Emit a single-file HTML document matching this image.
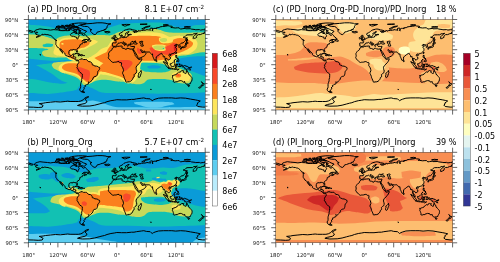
<!DOCTYPE html>
<html><head><meta charset="utf-8"><title>Figure</title>
<style>html,body{margin:0;padding:0;background:#fff}svg{display:block}text{font-family:"DejaVu Sans","Liberation Sans",sans-serif;fill:#000}.t{font-size:8.2px}.k{font-size:5.3px;fill:#1a1a1a}.c{font-size:8px}</style></head><body>
<svg width="500" height="262" viewBox="0 0 500 262">
<rect width="500" height="262" fill="#fff"/>
<defs>
<clipPath id="cp"><rect x="0" y="0" width="176.8" height="90.5"/></clipPath>
<path id="coast" d="M5.9,12.3 6.9,10.8 8.8,10.1 11.5,9.4 14.7,9.8 19.2,10.2 22.1,10.6 25.5,10.1 27,10.3 29.5,10.4 31.9,11.1 34.4,11.2 36.8,11.1 39.3,11.2 41.3,11 41.7,9.3 43.2,10.3 44.2,10.8 45.7,11.3 46.7,10.3 48.1,10.6 48.4,11.6 46.2,12.1 45.4,12.8 42.7,14.1 42,15.1 42.2,15.7 43,16.6 45.2,16.8 46.7,17.4 48,17.6 48.1,18.7 48.9,19.5 49.6,19.4 49.6,17.8 50.6,17.1 50.8,16.1 50.1,15.1 50.3,13.9 52.3,14.1 54,14.6 54.3,15.6 55.2,15.9 56.5,15.2 56.7,14.9 58,16.3 58.9,17.6 60.4,18.4 61,19.1 60.4,19.4 58.9,20 56,20 54.5,20.9 53.5,21.7 55,20.7 56.7,20.6 56.5,21.4 57,22.1 58.4,22.1 58.4,22.5 57.2,22.8 56,23.4 56,22.9 56.7,22.4 55.5,22.6 54.5,23.1 53.8,23.5 53.7,24.1 54,24.3 53.3,24.4 52.1,24.8 52,25.4 51.3,25.5 51.5,25.9 51.1,26.6 51.2,27.4 50.6,27.9 49.6,28.5 48.6,29.3 48.4,30 49.1,31.7 49,32.5 48.5,32.6 47.8,31.3 47.8,30.7 47.1,30.2 46.4,30.3 45.4,30 44.4,30.1 44.5,30.6 43.7,30.5 42.2,30.4 40.8,31.2 40.5,32.3 40.4,33.9 40.8,34.9 41.3,35.7 42,36.1 43.2,35.9 43.9,35.4 44.1,34.7 45.7,34.4 45.4,35.4 45.1,36.5 44.8,37.3 46.2,37.3 47.5,37.7 47.3,39 47.3,39.8 48,40.6 49.1,40.6 49.6,40.5 50.4,40.9 51.3,39.9 52.5,39.6 53.3,39.1 53.3,39.8 54,39.5 55,40 57,40 58,39.9 58.4,40.5 58.9,41 60.2,42.1 61.9,42.3 63.1,43 63.8,44.3 63.8,45.2 64.6,45.7 64.8,45.6 66.5,46.5 68.3,46.7 69.5,47.1 70.2,47.7 71.1,48 71.3,49 71,50 70.2,51 69.5,51.8 69.2,53 69.1,54.2 68.8,55.3 68.3,56.3 67.8,56.8 66.5,56.9 65.6,57.4 64.6,58.3 64.5,59.6 63.6,60.8 62.7,61.5 62.1,62.3 61.4,62.8 60.7,62.7 59.8,62.4 60.4,63.3 60.1,64.4 58.4,64.9 57.8,65.6 56.5,65.9 57.1,66.6 56.3,67.6 55.2,68.4 56.1,69.1 55.2,70.1 54.5,70.9 54.8,71.6 53.5,72.3 52.3,71.9 51.6,70.9 51.3,69.6 52.1,68.4 52.3,66.9 52.2,65.4 52.4,64 52.8,62.8 53.3,61.3 53.3,59.8 53.8,58.1 53.9,56.3 53.9,54.5 53,53.8 51.6,52.9 50.9,52.2 50.5,51.3 49.7,49.8 49.2,48.8 48.5,48.3 48.5,47.5 49.1,46.9 48.7,46.4 48.9,45.5 49.1,44.8 49.7,44.5 49.8,44 50.4,43.2 50.3,42 50.1,41.6 49.9,41.1 49.3,40.9 48.9,41.6 48.3,41.2 47.6,41.1 47.3,40.8 46.7,40.2 46.3,39.8 45.4,38.7 44.9,38.6 43.5,38.2 42.5,37.4 41.7,37.1 40.8,37.3 39.4,36.8 37.6,36 36.6,35.2 36.7,34.4 36.1,33.4 35.1,32.5 34.6,31.8 33.9,31.2 33.2,30.4 32.8,29.6 32.1,29.3 32.1,30.2 32.9,31.2 33.6,32.2 34.1,33 34.6,33.6 34.3,33.6 33.4,32.8 33.2,32 32.3,31.6 31.9,30.9 31.4,29.9 30.9,28.9 30.2,28.2 29.2,27.9 28.5,26.8 28.2,26.2 27.6,25.4 27.4,24.9 27.4,24.1 27.5,22.9 27.5,22 27.2,20.9 28,20.9 28.2,21.5 28.1,20.6 27.3,20.1 25.8,19.6 25.5,18.9 24.6,17.9 24.1,17.3 22.8,16.3 21.9,15.8 20.9,15.7 19.6,15.2 17.7,15.1 16.5,14.7 15.5,15.1 14,15.4 14,14.6 13,15.3 12.5,16.1 11.1,16.8 9.3,17.5 7.6,17.8 8.8,17.2 10.8,16.2 11.1,15.7 9.8,15.7 8.8,15.3 7.6,14.8 6.9,14.2 7.6,13.6 9.3,13.1 9.1,12.7 7.4,12.8 5.9,12.3M54.7,71.7 54.9,72.1 56.4,72.8 55.5,73.1 54.3,72.9 53.3,72.4 53.8,71.9 54.7,71.7M52.5,5.9 55,5 58,4.3 63.8,3.9 68.8,3.3 73.7,3.3 77.6,3.8 78.6,4.3 82.5,4.3 80.1,5 79.3,6 78.6,7.3 78.8,8 77.6,8.8 77.6,9.8 75.6,10.1 76.1,10.7 73.7,11.1 72.2,11.6 70.7,12.2 68.8,12.6 68.3,13.6 67.3,14.9 66.5,15.1 64.8,14.6 63.8,13.6 63.1,12.8 62.1,11.8 62.1,10.8 63.4,10.2 61.6,9.8 61.4,9.1 60.4,7.8 58.9,7 56,6.9 54,6.5 52.5,5.9M76.5,12.3 77.4,11.9 78.6,12.1 80.5,11.8 81.3,12.3 81.8,12.6 81,12.9 79.3,13.4 77.8,13.2 77.3,13.1 77.6,12.7 76.6,12.6 76.5,12.3M85.5,27.3 87.4,27.6 88.9,26.9 90.9,26.7 93.3,26.5 93.8,26.7 93.5,28 93.8,28.6 95.8,29 97.7,30 98.2,29.7 98.4,28.9 99.7,28.8 100.7,29.3 102.6,29.7 103.6,29.4 104.4,29.6 105.2,29.5 104.4,30.2 105.1,31.7 105.8,33.2 106.6,34.7 106.7,35.8 107.6,37.2 108.5,38 109.6,39 109.7,39.5 110.5,40 112,39.6 113.5,39.3 113.4,40 112.5,41.7 111.7,43 110,44.6 109,45.8 108.3,46.5 107.7,47.8 107.8,48.8 107.8,49.8 108.3,50.5 108.3,52.3 108,53.3 106.6,54.2 105.6,55.3 105.8,56.3 105.8,57.3 104.6,58.1 104.5,58.8 104.1,59.8 103.4,60.8 102.2,61.8 101,62.3 99.2,62.4 98.2,62.7 97.4,62.4 97.3,61.6 96.9,60.6 96.3,59.3 95.8,58.3 95.5,56.8 94.9,55.3 94.2,54 94.3,52.8 95.1,51.3 94.9,49.8 94.4,48.3 93.8,47.3 92.9,46 93.1,44.7 93.2,43.5 92.8,43 91.8,43 91.3,43.1 90.6,42.1 89.4,42.1 87.9,42.6 86.9,42.7 85.9,42.7 84.7,43 84,42.7 82.8,41.8 81.9,40.8 81.1,39.8 80.2,39.1 79.9,37.9 80.3,37 80.4,35.7 80.1,34.7 80.1,34.1 80.6,33.2 81.3,32.1 82,31.3 83,30.8 83.6,30.3 83.7,29.4 84.2,28.5 85.1,28.1 85.5,27.3M112.6,51.3 113.1,53 112.7,54 112.2,55.6 111.7,57.3 110.7,58.1 110,57.8 109.7,56.3 110.2,55.3 110,53.8 111,53.2 112,52.1 112.6,51.3M105.2,29.5 105.6,28.7 106.1,27.4 106.1,26.8 104.6,27 103.4,26.9 102.2,26.8 101.8,26.4 101.4,25.6 101.3,25.1 101.5,24.9 102.6,24.6 103.9,24.5 104.9,24.1 105.6,24.1 106.3,24.5 107.3,24.6 108.8,24.4 108.8,23.8 107.8,23.3 106.8,22.8 106.8,22.4 107.3,21.9 107.6,21.5 106.6,21.7 105.6,22.1 106.3,22.5 105.8,22.6 104.9,22.9 104.4,22.4 104.9,22.1 103.6,21.8 103.1,22.3 102.9,22.6 102.5,23.1 102.2,23.9 102.2,24.3 102.6,24.5 101.9,24.6 101.2,24.7 100.2,24.7 99.9,25 99.6,24.9 99.6,25.5 100.2,26.1 99.8,26.4 99.5,26.9 99.1,26.7 98.8,26 98.2,25.3 97.9,24.9 98,24.2 97.5,23.9 96.3,23.4 95.8,22.9 95.5,22.5 95.1,22.6 95.1,22.3 94.4,22.5 94.4,23 95.1,23.4 95.5,24 96.3,24.2 96.3,24.4 97.5,25 97.4,25.2 96.7,24.9 96.5,25.3 96.8,25.6 96.5,25.9 96.1,26.1 96.2,25.4 95.9,25.1 94.8,24.5 93.8,23.9 93.5,23.5 92.7,22.9 92.1,23.2 91.3,23.6 90.4,23.4 89.9,23.6 90,24.2 88.8,24.7 88.3,25.4 88.4,25.8 88.1,26.3 87.4,26.7 86.2,26.8 85.6,27.1 85.3,26.8 84.7,26.6 84,26.6 84.1,25.9 83.8,25.7 84.1,24.6 83.9,23.6 84.5,23.3 85.9,23.4 87.5,23.4 87.8,22.8 87.9,22.1 87.3,21.5 86.1,21.1 86.1,20.8 87.6,20.8 87.5,20.3 88.5,20.3 89.2,19.7 90.1,19.4 90.6,19 90.9,18.5 91.8,18.4 92.7,18.2 92.6,17.4 92.4,16.6 93.6,16.2 93.5,17.1 93.2,17.6 93.7,18.1 94.5,17.9 95.4,18.2 96.5,17.8 97.5,17.7 98.1,17.9 98.7,17.5 98.7,16.6 99.5,16.2 100.3,16.5 100.3,15.9 99.9,15.5 101.2,15.3 102.4,15.2 103.1,15.1 102.4,14.8 100.7,15 99.5,15.1 98.9,14.6 99,13.6 100.4,12.7 100.8,12.3 99.4,12.2 98.9,12.9 97.2,13.8 96.8,14.6 97.6,15.1 97.2,15.6 96.5,16.3 96.3,17 95.4,17.3 94.7,17.3 94.5,16.8 93.9,15.8 93.6,15.3 92.6,16 91.8,16.1 91.1,15.6 90.9,14.6 91,14.1 92.6,13.3 93.6,12.8 94.5,12.1 95.5,11.1 97,10.4 98.2,10.1 99.7,9.7 101.1,9.5 102.4,9.7 103.6,10 103.1,10.2 104.6,10.4 106.1,10.6 108.3,11.2 108.5,11.7 107.3,12 105.3,11.8 104.6,11.8 105.5,12.8 106.6,13.1 107,12.6 108,12.8 108.3,12.1 109.8,12 110,10.9 111,11.1 111.2,11.7 113,11 114.9,10.9 116.6,10.7 118.1,10.5 118.1,10.1 119.8,10.4 121.2,10.5 122,10.9 122.3,10.6 121.3,9.6 122,8.7 124,8.6 124.2,9.6 123.8,10.8 124.5,11.6 124,10.6 124.7,9.3 125.5,8.9 126.7,8.9 128.4,9.2 127.9,8.3 130.9,8.1 131.1,7.5 134.1,7 136.8,6.8 139.6,6.2 140.7,6.5 143.4,6.8 144.1,7.3 142.4,8 143.9,8.1 146.8,8.5 149.1,8.3 150.8,8.3 152,9.6 153.7,9.3 157.2,8.8 157.2,9.3 162.1,9.2 163,9.6 167,10.1 167,10.3 170.9,10.1 172.1,10.6 174.8,10.2 176.8,10.6M0,10.6 1.5,11 3.4,11.6 4.9,12.1 3.9,12.8 2.5,12.7 1,12.1 0,12.4M176.8,12.4 175.6,12.7 176.3,13.8 173.9,14.2 171.9,15.1 169.9,15.1 168.7,15.8 168,16.8 168.5,17.6 167,18.6 166.1,18.7 165.3,19.6 164.8,19.1 165,17.1 166,16 167.7,14.8 168.9,13.8 166.7,14.2 165.3,14.3 164,15.3 161.6,15.3 158.6,15.4 157.4,16.1 155.9,17.6 154.8,17.7 156.2,18.2 157.6,18.5 157.6,19.4 157.2,20.9 156.2,22 154.7,23.4 153.2,23.6 152.5,24 152.1,24.6 151,25.2 151.9,26.6 151.9,27.5 151,27.8 150.4,27.9 150.5,26.9 150.3,26.3 149.8,26.1 149.9,25.3 149.4,25.2 148.1,25.6 148.2,24.7 146.8,25.5 146.2,25.8 146.7,26.4 147.7,26.2 148.6,26.6 147.6,27.1 147,27.7 147.6,28.4 148.2,29.3 148.2,29.9 148.1,30.9 147.3,31.9 146.6,32.8 145.6,33.7 144.5,34 143.4,34.3 142.6,34.5 142.3,34.9 141.5,34.4 140.8,34.9 140.4,35.7 140.9,36.7 141.8,37.5 142.1,38.7 141.9,39.5 140.9,40 140.1,40.8 140,40.2 139.2,39.9 138.7,39.1 138,38.8 137.7,38.5 137.3,39.5 137.2,40.5 137.8,41.5 138.5,42.1 139.1,43 139.2,44 139.6,44.5 139.2,44.6 138.1,43.8 137.7,42.7 137.7,42 136.9,41.2 136.7,40.5 136.9,39.5 136.4,38 136.3,37 135.3,37.3 134.7,37.2 134.7,35.9 133.7,34.8 133.4,33.9 132.8,33.9 132.1,34.3 131.1,34.7 130.8,35.2 130.1,35.5 128.8,36.9 127.8,37.5 127.8,38.7 127.6,40.1 127.2,40.6 126.8,41 126.5,41.2 126,40.5 125.5,39.3 125,38.2 124.5,37.2 124.2,35.7 124.1,34.4 123.2,34.8 122.3,34 121.9,33.3 121.5,32.8 121.1,32.5 119.8,32.5 118.6,32.6 116.9,32.4 116.4,31.8 116,31.6 115.2,31.9 114.4,31.7 113.7,31.2 113.2,30.4 112.5,30 112,30.3 112.3,30.9 113,31.8 113.1,32.3 113.7,32.3 113.6,33 114.9,33.1 116,32.2 116.1,32.9 117.1,33.4 117.8,33.9 117.1,34.9 116.7,35.7 116.1,36.2 115.4,36.7 113.9,37.4 112.5,38.2 110.5,38.8 109.8,38.9 109.4,37.8 109.3,37 108.5,35.7 107.7,34.5 107.3,33.4 106.7,32.7 106.1,31.8 105.6,31.2 105.5,30.4 105.2,31.3 104.5,30.3M85.7,20.1 86.7,20 87.9,19.8 89,19.5 88.8,19.4 89.2,18.8 88.5,18.6 88.3,18.1 87.7,17.6 87.4,17.1 86.9,17.1 87.4,16.3 86.7,16.2 86.9,15.8 85.9,15.8 85.5,16.3 85.7,17.1 85.9,17.6 86.8,17.6 86.9,18.1 86.9,18.5 86.2,18.5 86.3,19 85.8,19.2 86.7,19.4 86.4,19.6 85.7,20.1M85.4,19 85.5,18.4 85.6,17.7 84.7,17.4 84.2,17.8 83.5,18.1 83.7,18.6 83.4,19.1 83.7,19.4 84.5,19.2 85.4,19M152.3,29.5 153,29.4 153.2,28.7 152.7,28.2 153.5,28 154.7,27.9 154.8,28.4 155.6,28 156.4,27.8 157.1,27.7 157.5,27.3 157.6,26.1 158.1,25.4 157.9,24.5 157.2,24.6 157.2,25.4 156.8,26.1 155.7,26.7 155.2,27.3 153.7,27.4 152.7,28 152.1,28.6 152.3,29.5M157.3,24.3 157.9,23.9 158.8,24.1 159.9,23.5 159.3,23.1 158.1,22.4 157.9,23.4 157.3,23.5 157.3,24.3M158.1,22.1 158.9,21.7 158.6,20.6 159.4,20.6 158.6,19.1 158.6,17.9 158.1,18.4 158.1,20.1 158.1,22.1M147.4,33.7 147.8,32.6 148.3,32.7 148,33.8 147.7,34.2 147.4,33.7M141.8,35.6 142.7,35.2 142.9,35.4 142.2,36.1 141.8,35.6M127.6,40.4 128.3,41 128.6,41.7 128.2,42.2 127.7,42.2 127.5,41.2 127.6,40.4M147.6,35.9 148.4,36 148.3,37 148.1,37.7 149.3,38.7 149.2,38.9 148.3,38.3 147.6,38.2 147.3,37.2 147.6,35.9M148.3,41.7 149.1,41 150,40.3 150.5,41.2 150.4,42.1 150,42.3 149.3,42 148.3,41.7M149.5,39 150.1,39.7 149.8,40.2 149.5,39.7 149.5,39M146,41 147.1,39.8 147.1,39.6 146.3,40.6 146,41M141.9,44.5 142.9,44.4 143.1,43.9 143.9,43.6 144.6,42.9 145.4,42.1 145.9,41.7 146.6,42.5 146.2,43.1 146.4,44.1 146.8,44.7 146.1,45 146.1,45.7 145.6,46 145.4,47 144.6,47.3 143.9,46.9 143.3,46.8 142.5,46.7 142.4,45.9 141.9,45.2 141.9,44.5M135.2,42.4 136.3,42.6 137.5,43.7 138,44.1 139.2,45.2 139.7,46.2 140.5,46.8 140.4,48.2 139.7,48.2 138.5,47.3 137.8,46.3 137,45 136.3,44.1 135.2,42.4M140.1,48.7 140.7,48.3 141.7,48.6 142.8,48.5 143.7,48.7 144.6,49.2 144.6,49.6 142.9,49.4 141.4,49.2 140.7,49 140.1,48.7M147.1,48 146.8,47 147.2,45.7 147.6,44.7 148.8,44.8 149.8,44.4 149.3,45 147.8,45 147.5,45.7 148.1,45.8 149,45.7 148.2,46.3 148.7,47.3 148.4,47.9 147.8,46.8 147.5,46.8 147.5,48.1 147.1,48M152.7,45.7 153.5,45.5 154.2,45.7 154.7,46.9 156.1,46 157.6,46.6 159.4,47.2 160.6,48.2 161,48.6 160.6,48.7 161.1,49.3 162.3,50.4 161.1,50.4 160.1,49.5 159.4,49.1 158.9,49.8 157.6,49.8 156.7,49.3 156.2,49.5 156.6,48.8 156.2,48 154.9,47.5 153.7,47.3 153.2,46.7 152.7,45.7M149.1,50.4 149.8,49.8 150.8,49.5 150,50.1 149.1,50.4M145.4,49.5 146.6,49.4 147.6,49.5 148.8,49.4 147.8,49.7 146.4,49.7 145.4,49.5M151,44.7 151.3,44.2 151.6,44.7 151.3,45.7 151,44.7M150.3,46.9 151.3,46.7 152.5,46.9 151.5,47 150.3,46.9M161.3,48.1 162.1,47.8 163,47.4 163.1,47.8 162.3,48.4 161.3,48.1M144.1,56.3 144.5,56.6 144.4,56.2 145.4,55.7 146.8,55.3 148.1,54.8 148.5,54 149.1,53.9 149.8,53 150.5,52.3 151.3,52.8 152,52.7 152.5,51.6 153.2,51.3 153.5,51 154.7,51.4 155.6,51.4 155.2,52 154.9,52.8 155.9,53.3 156.9,54 157.5,54 157.9,52.8 158,51.5 158.4,50.7 158.9,51.5 159,52.4 159.8,52.8 160.1,54 160.2,54.8 161.3,55.4 161.8,56.3 162.5,57 163.4,58 163.7,59.1 163.6,60.3 163.3,61.6 162.7,62.3 162.2,63.3 162.1,64.1 161.1,64.3 160.2,64.9 159.5,64.5 158.9,64.8 157.6,64.5 157.1,63.9 156.8,63.2 156.2,63.1 156.3,62.5 156.1,61.8 155.7,62.3 155.2,62.8 154.8,62.6 154.2,61.7 153.2,61.3 151.8,61.1 150.3,61.5 149.3,61.8 149.1,62.3 147.3,62.3 146.4,62.8 145.2,62.5 144.9,62.1 145.2,61.3 144.9,60.3 144.5,59.1 144,58.3 144.2,57.3 144.1,56.3M159.5,65.7 160.3,65.9 161.2,65.8 161.1,66.6 160.6,67.1 160.1,67.1 159.8,66.5 159.5,65.7M173.2,62.5 174,63.1 174.6,63.8 174.8,64.2 175.8,64.2 176,64.6 175.3,65.1 174.9,65.9 174.3,66.1 174.2,65.4 173.8,65 174.2,64.4 174.1,63.6 173.2,62.5M173.2,65.7 174,66.1 173.4,66.9 173.1,67.3 172.5,67.6 172.2,68.3 171.4,68.7 170.7,68.5 170.2,68.3 170.9,67.5 171.9,66.9 172.6,66.3 173.2,65.7M49.1,8.2 51.1,8.6 53.5,9.6 55.2,10.6 58,11.6 58.2,12.1 57,12.6 56.5,13.6 56,14.1 55,13.8 53.3,13.3 51.8,12.8 50.3,12.9 50.3,12.3 52.1,12.1 52.5,11.1 50.6,10.1 49.6,10.1 47.1,10.1 44.9,9.6 44.4,8.5 46.7,8.3 49.1,8.2M30.9,10.3 32.9,10.8 35.4,10.7 36.8,10.6 38.6,10.2 36.8,9.6 36.8,8.5 34.4,8.5 31.9,8.3 30.4,8.8 30.4,9.6 30.9,10.3M27,9.1 28,9.5 29.5,9.3 30.9,8.3 31.4,7.8 29.5,7.8 27.5,8 27,9.1M44.2,6.8 46.7,6.9 49.1,6.9 50.6,6 51.6,5.5 55,4.8 57,4.3 58,3.8 54,3.5 50.1,3.5 46.2,3.9 43.7,4.3 45.2,5 46.2,5.8 44.2,6.8M43.2,6.8 44.2,7.7 48.1,7.8 49.1,7.3 46.7,7 43.2,6.8M30.9,7.4 33.4,7.8 36.3,7.5 36.3,7 34.4,6.8 31.4,6.9 30.9,7.4M41.3,5.9 44.2,5.9 45.2,5.3 43.2,4.5 41.3,5 41.3,5.9M37.3,7.3 40.3,7.5 40.8,6.8 38.3,6.7 37.3,7.3M41.3,8.8 42.7,9.1 44.2,8.2 42.2,7.9 41.3,8.8M38.3,9.1 40.3,9.3 40.8,8.5 39.3,8.1 38.3,9.1M39.8,10.6 41.3,10.7 41.5,10.3 40.3,10.1 39.8,10.6M45.7,12.3 47.1,12.3 48.6,13.1 47.6,13.7 46.2,13.3 45.7,12.3M59.3,21.2 60.2,19.9 61.1,19.4 60.9,20.1 61.9,20.4 62.5,21.1 62.4,21.8 61.1,21.6 59.3,21.2M46.7,34.3 47.9,33.7 49.1,33.7 50.6,34.4 52,35.1 50.3,35.2 50.1,34.8 49.1,34.3 48.1,34 46.7,34.3M51.9,35.9 52.5,35.2 54,35.3 54.8,35.9 53.8,36.1 53.3,36.4 51.9,35.9M49.9,36 50.9,36.1 50.3,36.3 49.9,36M55.4,36 56.2,36 55.7,36.3 55.4,36M93.8,5.3 95.8,5 98.2,4.9 101.7,5 99.2,5.8 97.2,6.5 95.8,6.5 93.8,5.3M113.7,9.3 115.4,8.3 117.9,7 121.8,6.5 120.3,7.3 116.9,8 115.9,9.6 114.4,9.7 113.7,9.3M135.1,5.5 137.5,5 140,5.5 137.5,6 135.1,5.5M156.2,7.5 158.6,7 162.1,7.4 159.6,7.8 156.2,7.5M112,4.8 115.4,4.5 118.8,4.6 115.9,5 112,4.8M176.1,9.6 176.8,9.3M111.5,22.4 112.5,21.9 113.7,21.7 114.4,22.1 114.4,22.6 113.4,22.9 113.2,23.6 114.2,23.9 114.4,24.6 114.2,25.4 114.8,25.6 114.9,26.5 113.4,26.7 112.5,26.4 112.5,25.6 112.7,24.9 111.7,23.6 111.5,22.4M0,87.6 4.9,87.7 9.8,88 13.8,87.7 14.7,86 12.3,84.7 10.8,84.1 14.7,83.7 17.2,83.2 22.1,82.7 27,82.2 31.9,82.5 36.8,82 39.3,81.7 41.7,82 46.7,82 50.1,82 52.5,81.5 55,80.2 56,78.9 57.5,77.9 59.9,77.1 60.4,77.4 58.9,78.2 58,78.9 56.5,79.7 58.4,81.5 58.4,82.7 56.5,84 51.6,85 49.1,86 54,86.7 61.4,86.5 66.3,85.7 70.7,84.5 73.7,83.7 76.1,83.2 78.6,82.2 82.5,81.2 85.9,80.7 88.4,80.2 93.3,80.4 98.2,80.4 103.1,79.9 105.6,79.9 108,79.4 113,78.7 115.4,78.4 117.9,79.1 121.8,79.4 122.8,80.4 123.8,81.2 125.2,80.3 126.7,79.7 130.1,78.7 135.1,78.4 140,78.4 143.4,78.4 147.3,78.8 152.2,78.4 157.2,78.7 162.1,79.6 167,80.4 169.4,80.9 171.9,81.5 170.4,82.5 168.9,83.5 169.4,84.5 168,85.5 169.4,87 174.3,87.6 176.8,87.6M11.8,35.1 12.3,35.4 11.9,35.7 11.8,35.1M28,7 30.4,6.3 31.4,6.8 29.5,7.3 28,7M36.8,6 39.3,5.5 39.8,6 37.8,6.3 36.8,6M41,7.5 42.5,7.3 42.2,7.6 41,7.5M48.6,8.3 50.6,8.2 50.8,8.6 49.1,8.7 48.6,8.3M50.6,11.1 51.6,10.9 51.3,11.4 50.6,11.1M47.6,13.7 49.1,13.8 48.6,14.1 47.6,13.7M40.3,5.9 41.3,5.6 41.5,6.1 40.3,5.9M33.4,6 34.9,5.8 35.1,6.3 33.9,6.4 33.4,6M35.9,8.4 36.6,8.2 36.8,8.6 35.9,8.4M122.3,69.9 122.9,70 122.6,70.2 122.3,69.9" fill="none" stroke="#000" stroke-width="1" stroke-linejoin="round" stroke-linecap="round"/>
<g id="axes"><path d="M0,0v-4.6M0,90.5v4.6M7.4,0v-2.3M7.4,90.5v2.3M14.7,0v-2.3M14.7,90.5v2.3M22.1,0v-2.3M22.1,90.5v2.3M29.5,0v-4.6M29.5,90.5v4.6M36.8,0v-2.3M36.8,90.5v2.3M44.2,0v-2.3M44.2,90.5v2.3M51.6,0v-2.3M51.6,90.5v2.3M58.9,0v-4.6M58.9,90.5v4.6M66.3,0v-2.3M66.3,90.5v2.3M73.7,0v-2.3M73.7,90.5v2.3M81,0v-2.3M81,90.5v2.3M88.4,0v-4.6M88.4,90.5v4.6M95.8,0v-2.3M95.8,90.5v2.3M103.1,0v-2.3M103.1,90.5v2.3M110.5,0v-2.3M110.5,90.5v2.3M117.9,0v-4.6M117.9,90.5v4.6M125.2,0v-2.3M125.2,90.5v2.3M132.6,0v-2.3M132.6,90.5v2.3M140,0v-2.3M140,90.5v2.3M147.3,0v-4.6M147.3,90.5v4.6M154.7,0v-2.3M154.7,90.5v2.3M162.1,0v-2.3M162.1,90.5v2.3M169.4,0v-2.3M169.4,90.5v2.3M176.8,0v-4.6M176.8,90.5v4.6M0,0h-4.6M176.8,0h4.6M0,3.8h-2.3M176.8,3.8h2.3M0,7.5h-2.3M176.8,7.5h2.3M0,11.3h-2.3M176.8,11.3h2.3M0,15.1h-4.6M176.8,15.1h4.6M0,18.9h-2.3M176.8,18.9h2.3M0,22.6h-2.3M176.8,22.6h2.3M0,26.4h-2.3M176.8,26.4h2.3M0,30.2h-4.6M176.8,30.2h4.6M0,33.9h-2.3M176.8,33.9h2.3M0,37.7h-2.3M176.8,37.7h2.3M0,41.5h-2.3M176.8,41.5h2.3M0,45.2h-4.6M176.8,45.2h4.6M0,49h-2.3M176.8,49h2.3M0,52.8h-2.3M176.8,52.8h2.3M0,56.6h-2.3M176.8,56.6h2.3M0,60.3h-4.6M176.8,60.3h4.6M0,64.1h-2.3M176.8,64.1h2.3M0,67.9h-2.3M176.8,67.9h2.3M0,71.6h-2.3M176.8,71.6h2.3M0,75.4h-4.6M176.8,75.4h4.6M0,79.2h-2.3M176.8,79.2h2.3M0,83h-2.3M176.8,83h2.3M0,86.7h-2.3M176.8,86.7h2.3M0,90.5h-4.6M176.8,90.5h4.6" stroke="#000" stroke-width="0.6" fill="none"/><rect x="0" y="0" width="176.8" height="90.5" fill="none" stroke="#222" stroke-width="0.4"/><text class="k" x="-10.2" y="2.4" text-anchor="end">90°N</text><text class="k" x="-10.2" y="17.5" text-anchor="end">60°N</text><text class="k" x="-10.2" y="32.6" text-anchor="end">30°N</text><text class="k" x="-10.2" y="47.6" text-anchor="end">0°</text><text class="k" x="-10.2" y="62.7" text-anchor="end">30°S</text><text class="k" x="-10.2" y="77.8" text-anchor="end">60°S</text><text class="k" x="-10.2" y="92.9" text-anchor="end">90°S</text><text class="k" x="0.3" y="104.8" text-anchor="middle">180°</text><text class="k" x="29.8" y="104.8" text-anchor="middle">120°W</text><text class="k" x="59.2" y="104.8" text-anchor="middle">60°W</text><text class="k" x="88.7" y="104.8" text-anchor="middle">0°</text><text class="k" x="118.2" y="104.8" text-anchor="middle">60°E</text><text class="k" x="147.6" y="104.8" text-anchor="middle">120°E</text></g>
</defs>
<g transform="translate(28.4,19.5)">
<g clip-path="url(#cp)">
<rect x="-1" y="-1" width="178.8" height="92.5" fill="#0a9bd8"/>
<path d="M-18.4,81.7C-18.4,81.7 -7.7,81.7 -2.4,81.7C2.9,81.7 12.9,81.7 19.6,81.8C26.3,81.9 36.3,82.4 39.6,82.5C42.9,82.6 46.3,82.7 49.6,82.5C52.9,82.3 57.9,81.7 59.6,81.5C61.3,81.3 62.9,80.9 64.6,81C66.3,81.1 68,81.6 69.6,82C71.2,82.4 73,82.9 74.6,83.5C76.2,84.1 78,84.9 79.6,85.5C81.2,86.1 83,86.6 84.6,87C86.2,87.4 87.9,87.6 89.6,87.7C91.3,87.8 97.6,87.7 101.6,87.7C105.6,87.7 121.6,87.9 131.6,87.9C141.6,87.9 155.9,87.6 161.6,87.5C167.3,87.4 175.9,87.3 178.6,87.3C181.3,87.3 186.6,87.3 186.6,87.3C186.6,87.3 186.6,93.5 186.6,93.5C186.6,93.5 -18.4,93.5 -18.4,93.5C-18.4,93.5 -18.4,81.7 -18.4,81.7Z" fill="#5dcdf0"/>
<path d="M105.6,82.7C105.6,82.7 112.9,82.3 116.6,82.2C120.3,82.1 127.6,82.1 131.6,82.2C135.6,82.3 142.5,82.6 143.6,82.8C144.7,83 146.1,84.8 146.1,84.8C146.1,84.8 139.6,86.1 137.6,86.5C135.6,86.9 133.7,87.8 131.6,88C129.5,88.2 122.4,88.3 119.6,88C116.8,87.7 113.3,86.1 111.6,85.7C109.9,85.3 107.2,84.8 106.6,84.5C106,84.2 105.6,82.7 105.6,82.7Z" fill="#5dcdf0"/>
<path d="M-18.4,5.1C-18.4,5.1 -9.1,5 -4.4,5.1C0.3,5.2 8.9,5.7 11.6,5.9C14.3,6.1 16.9,6.6 19.6,7.1C22.3,7.6 25,8.4 27.6,8.9C30.2,9.4 32.9,9.5 35.6,9.9C38.3,10.3 40.9,10.8 43.6,11.1C46.3,11.4 49.6,11.6 51.6,11.9C53.6,12.2 55.6,12.6 57.6,13.1C59.6,13.6 61.9,14.5 63.6,14.7C65.3,14.9 67.3,14.7 68.6,14.3C69.9,13.9 71,12.9 72.2,12.3C73.4,11.7 76.1,10.3 77.4,9.7C78.7,9.1 79.9,8.3 81.2,7.8C82.5,7.3 85.5,6.4 87.6,5.9C89.7,5.4 91.9,4.9 94,4.6C96.1,4.3 98.3,4.2 100.4,4C102.5,3.8 104.7,3.7 106.8,3.6C108.9,3.5 111.1,3.4 113.2,3.3C115.3,3.2 119.3,3.1 121.6,3.1C123.9,3.1 126.6,3 128.6,3C130.6,3 132.9,3.1 134.6,3.4C136.3,3.7 138.3,4.5 139.6,4.9C140.9,5.3 142.3,5.7 143.6,6.1C144.9,6.5 146.3,7 147.6,7.3C148.9,7.6 150.3,7.8 151.6,8C152.9,8.2 154.9,8.4 156.6,8.4C158.3,8.4 160.6,8.4 161.6,8.1C162.6,7.8 163.1,6.6 164.1,6.3C165.1,6 167.7,5.6 169.6,5.5C171.5,5.4 178.6,5.5 180.6,5.5C182.6,5.5 186.6,5.5 186.6,5.5C186.6,5.5 180.6,72.5 180.6,72.5C180.6,72.5 167.9,73.3 161.6,73.5C155.3,73.7 146.3,74 139.6,74.1C132.9,74.2 126.3,74.2 119.6,74.1C112.9,74 106.3,73.6 99.6,73.5C92.9,73.4 82.3,73.6 79.6,73.5C76.9,73.4 73.8,73.1 71.6,72.5C69.4,71.9 67.6,70.4 65.6,69.5C63.6,68.6 61.2,67.6 59.6,67C58,66.4 56,65.5 54.6,65.5C53.2,65.5 51.6,66.3 50.6,67C49.6,67.7 49.6,69.4 48.6,70C47.6,70.6 44.9,71.2 43.6,71.5C42.3,71.8 40.9,71.8 39.6,72C38.3,72.2 32.9,73.1 29.6,73.5C26.3,73.9 22.9,74.4 19.6,74.5C16.3,74.6 12.9,74.1 9.6,74C6.3,73.9 0.3,73.6 -4.4,73.5C-9.1,73.4 -18.4,73.5 -18.4,73.5C-18.4,73.5 -18.4,5.1 -18.4,5.1Z" fill="#12c1b3"/>
<path d="M-2.4,39.1C-2.4,39.1 3.9,39.5 6,39.7C8.1,39.9 10.3,40.2 12.4,40.4C14.5,40.6 16.7,40.9 18.8,41C20.9,41.1 23.1,41.3 25.2,41.3C27.3,41.3 29.5,41.1 31.6,41C33.7,40.9 36.5,40.5 38,40.5C39.5,40.5 42.5,40.8 42.5,40.8C42.5,40.8 42.2,41.7 41.8,41.8C41.4,41.9 33.7,42.7 31.6,42.9C29.5,43.1 27.3,43.4 25.2,43.6C23.1,43.8 20.9,44 18.8,44.2C16.7,44.4 14.1,44.7 12.4,44.9C10.7,45.1 7.3,45.5 7.3,45.5C7.3,45.5 10.7,47.1 12.4,48C14.1,48.9 16.7,50.3 18.8,51.5C20.9,52.7 23.7,54.4 25.2,55.5C26.7,56.6 28,58 29.6,59C31.2,60 33.2,61.1 34.6,61.8C36,62.5 39.1,63.3 39.1,63.3C39.1,63.3 36.1,64.3 34.6,64.3C33.1,64.3 27.9,64 24.6,63.5C21.3,63 16.9,62 14.6,61.5C12.3,61 10,60.3 7.6,60C5.2,59.7 -2.4,59.5 -2.4,59.5C-2.4,59.5 -2.4,39.1 -2.4,39.1Z" fill="#0a9bd8"/>
<path d="M147.7,42.9C147.9,42.4 148.7,40.9 149.6,40.3C150.5,39.6 152.1,38.9 153.4,38.6C154.8,38.2 157.7,37.8 159.8,37.6C162,37.3 164.5,37.2 166.2,37.1C167.9,36.9 169.7,36.8 171.4,36.8C173.1,36.7 179,36.7 179,36.7C179,36.7 179,57 179,57C179,57 175.6,56.3 173.9,55.7C172.2,55.2 170.5,54.5 168.8,53.8C167.1,53.2 164.5,52.1 162.4,51.3C160.3,50.4 158.1,49.4 156,48.7C153.9,48 150.6,47.2 149.6,46.8C148.6,46.3 147.6,45.1 147.3,44.6C147,44.1 147.4,43.4 147.7,42.9Z" fill="#0a9bd8"/>
<path d="M118.9,46.8C118.9,46.8 121.4,46 122.7,45.9C124,45.8 127.8,45.9 129.1,46.1C130.5,46.3 133,47.4 133,47.4C133,47.4 131.3,48.5 130.4,48.7C129.5,48.9 125.5,49 124,49C122.5,48.9 120.1,48.7 119.5,48.4C119,48.2 118.9,46.8 118.9,46.8Z" fill="#0a9bd8"/>
<path d="M-18.4,14.6C-18.4,14.6 -7.4,14.5 -4.4,14.6C-1.4,14.7 2.9,15 4.6,15.1C6.3,15.2 8.3,15.4 9.6,15.5C10.9,15.6 12.3,15.6 13.6,15.9C14.9,16.2 17.3,17 18.6,17.4C19.9,17.8 21.7,18.4 22.6,18.7C23.5,19 24.6,19.4 25.2,19.7C25.8,20 26.9,20.7 26.9,20.7C26.9,20.7 28.2,19.3 29,18.7C29.8,18.2 30.7,17.7 31.6,17.4C32.5,17.1 34.1,16.6 35.4,16.4C36.7,16.2 38.9,16 40.6,15.9C42.3,15.8 43.9,15.9 45.6,15.9C47.3,15.9 48.9,16 50.6,16.1C52.3,16.2 53.9,16.8 55.6,16.8C57.3,16.8 59.6,16.1 61.6,15.9C63.6,15.7 66.6,15.6 68.6,15.5C70.6,15.4 72.6,15.4 74.6,15.5C76.6,15.6 79.9,16 81.2,15.9C82.5,15.8 83.8,15.3 85,14.9C86.2,14.5 87.6,13.6 88.9,13.1C90.2,12.6 92.3,12 94,11.7C95.7,11.4 97.4,11.5 99.1,11.4C100.8,11.3 102.5,11.4 104.2,11.3C105.9,11.2 107.8,11 109.6,10.8C111.4,10.6 113.6,10.2 115.6,10C117.6,9.8 119.6,9.6 121.6,9.5C123.6,9.4 126,9.4 127.6,9.6C129.2,9.8 130.7,10.2 132.2,10.6C133.7,11.1 135.1,11.9 136.6,12.3C138.1,12.7 140.8,12.9 142.5,13.1C144.2,13.3 145.9,13.3 147.6,13.3C149.3,13.3 150.9,13.3 152.6,13.3C154.3,13.3 155.9,13.3 157.6,13.3C159.3,13.3 160.9,13.2 162.6,13.2C164.3,13.2 166.3,13.1 167.6,13.1C168.9,13.1 170.3,13.1 171.6,13.1C172.9,13.1 178.6,13.1 180.6,13.1C182.6,13.1 186.6,13.1 186.6,13.1C186.6,13.1 186.6,32.7 186.6,32.7C186.6,32.7 182.6,32.6 180.6,32.7C178.6,32.8 174.4,32.7 171.4,33.1C168.4,33.5 164.2,34.8 161.6,35.3C159,35.8 154.8,36.2 153.6,36.3C152.4,36.4 150.8,36.4 150.1,36.7C149.4,37 148.9,37.8 148.6,38.5C148.3,39.2 147.6,41.2 147.6,42.5C147.6,43.8 147.9,45.4 148.6,46.5C149.3,47.6 150.5,48.4 151.6,49C152.7,49.6 155,50.3 156.6,51C158.2,51.7 160.7,52.8 161.6,53.5C162.5,54.2 163.3,55.3 163.6,56.5C163.8,57.7 163.6,59.3 163.1,60.5C162.6,61.7 161.8,63 160.6,63.5C159.4,64 156.6,64.1 154.6,64C152.6,63.9 148.8,63.3 147.6,63C146.4,62.7 145.7,61.4 144.6,61C143.5,60.6 141.3,60.2 139.6,60C137.9,59.8 132.9,59.5 129.6,59.5C126.3,59.5 121.3,59.6 119.6,60.1C117.9,60.6 117.2,62.7 115.6,63.5C114,64.3 112,64.7 110.1,64.8C108.2,64.9 105,64.6 103.6,64.3C102.2,64 101,63.1 99.6,62.9C98.2,62.7 92.9,62.5 89.6,62.1C86.3,61.7 82.3,60.7 79.6,60.5C76.9,60.3 73.7,60.3 71.6,60.5C69.5,60.7 67.6,61.4 65.6,62.1C63.6,62.8 60.9,64.1 59.6,64.5C58.3,64.9 56.5,65.7 55.6,65.5C54.7,65.3 54.2,64.2 53.6,63.5C53,62.8 51.1,60.2 49.6,59C48.1,57.8 46.2,57.1 44.4,56.4C42.6,55.7 40.1,55.2 38,54.5C35.9,53.8 33.7,52.9 31.6,51.9C29.5,50.9 26.2,49.5 25.2,48.7C24.2,47.9 23.3,45.5 23.3,45.5C23.3,45.5 24.6,43.5 25.6,43.1C26.6,42.7 29.6,42.5 31.6,42.4C33.6,42.3 37.8,42.3 39.6,42.1C41.4,41.9 44.5,41.6 45.1,41.3C45.7,41 45.6,39.3 45.6,39.3C45.6,39.3 44.4,38.3 43.6,38.1C42.8,37.9 40.9,37.7 39.6,37.7C38.3,37.7 34.3,38.1 31.6,38.1C28.9,38.1 26,38.2 23.6,38C21.2,37.8 17.8,37.4 16.6,37C15.4,36.6 14.2,35.3 13.8,34.5C13.4,33.7 13.6,32.6 14.1,32C14.6,31.4 15.7,31.1 16.6,30.8C17.5,30.5 20.1,30.2 20.1,30.2C20.1,30.2 19.2,29.4 18.6,29.3C18,29.2 13.9,28.8 11.6,28.7C9.3,28.6 0.3,28.5 -4.4,28.5C-9.1,28.5 -18.4,28.5 -18.4,28.5C-18.4,28.5 -18.4,14.6 -18.4,14.6Z" fill="#c6d95b"/>
<path d="M110.6,46.5C110.5,45.5 111.4,44.6 112.1,44C112.8,43.4 113.7,42.9 114.6,42.8C115.5,42.7 119.3,42.8 121.6,43C123.9,43.2 129.9,43.7 131.6,44C133.3,44.3 135.5,44.8 136.6,45.3C137.7,45.8 138.6,46.8 139.6,47.5C140.6,48.2 143.6,49.7 143.6,49.7C143.6,49.7 141.1,51.5 139.6,52C138.1,52.5 135.6,52.9 133.6,53C131.6,53.1 128.3,52.9 125.6,52.8C122.9,52.7 119.4,52.7 117.6,52.3C115.8,51.9 113.6,50.9 112.6,50C111.6,49.1 110.7,47.5 110.6,46.5Z" fill="#12c1b3"/>
<path d="M118.9,46.8C118.9,46.8 121.4,46 122.7,45.9C124,45.8 127.8,45.9 129.1,46.1C130.5,46.3 133,47.4 133,47.4C133,47.4 131.3,48.5 130.4,48.7C129.5,48.9 125.5,49 124,49C122.5,48.9 120.1,48.7 119.5,48.4C119,48.2 118.9,46.8 118.9,46.8Z" fill="#0a9bd8"/>
<path d="M14.3,25.4C14.3,25.4 17.2,24.2 18.8,24.1C20.4,24 24.6,24.7 24.6,24.7C24.6,24.7 24.6,26.7 23.9,27C23.2,27.4 20.2,27.6 18.8,27.6C17.4,27.5 15.2,27.1 14.7,26.9C14.2,26.7 14.3,25.4 14.3,25.4Z" fill="#12c1b3"/>
<path d="M48.8,42.2 46.7,41.9 42.4,41.9 38.7,42.2 35.9,42.9 34,44 32.3,46 31.7,47.5 32,49.3 33.1,50.9 35.4,52.4 39.1,53.7 45.8,55.5 48.3,56.6 51,58.6 56.4,63.6 58.6,64.7 60.7,64.6 64.1,62.8 71,56.2 71.9,55 72.3,53.9 75.1,54.7 76.9,54.4 90.2,58.4 94.5,60.4 95.8,62.3 97.2,63.3 98.7,63.8 100.4,63.9 102,63.4 104.4,62 105.9,60.8 107.3,59.1 108.9,56 109.7,53.5 109.9,51.8 109.4,48.7 112.7,44 113.8,42.9 126.7,43 135.1,42.1 137.5,42.9 139.6,42.7 141.8,41.5 144.8,38.3 147,36.7 156.1,33.3 159.7,31.5 162.9,29.5 164.4,28.2 165.8,26.4 166.4,24.9 166.5,23.6 166.2,22.6 165.3,21.4 162.5,19.4 158,17.5 154.3,16.8 151.5,16.7 147.8,17.3 145.1,18.2 140.1,20.6 136.9,21.6 134.6,21.9 133.8,21.4 134.9,20.8 135.8,19.7 135.8,18.1 135.3,17.3 134.5,16.6 133.3,16 129.9,15.1 125.2,14.6 116.5,14.4 103.9,14.7 98,15.3 91.1,16.8 88.2,17.7 86.1,18.8 84.3,20.3 82.7,21.9 78.1,28.5 76.9,31.2 66.1,36.2 64.8,37.1 64.2,38.2 64.4,39.4 65,40.2 71.7,44.1 69.5,45.9 66.3,43.9 63.7,41.5 61.7,40.1 59.5,38.9 57.7,38.4 53.5,38.2 51.3,38.6 49.8,39.9Z" fill="#fee55c"/>
<path d="M145,56.6 145.5,58 146.6,59.1 148.2,59.7 150.5,59.8 152.1,59.4 153.6,58.3 154.4,57.2 154.6,55.8 154,54.1 153,53 151.5,52.4 149.3,52.3 147.7,52.7 146,53.9 145,55.4Z" fill="#fee55c"/>
<path d="M29.5,23.7 29.3,25.9 29.5,28 30.2,29.9 31.4,31.6 35.5,35.5 40.6,39.8 43.6,41.1 47.3,41.9 48.7,41.4 49.2,40.8 49.4,40 49.2,38.9 46.4,35.7 43.6,33.5 43.4,33 44.1,32.5 44.9,32.3 46.9,32.8 48.7,32.6 50.2,32 52.9,30.3 56.1,29.7 58,28.9 61.7,26.5 63,24.6 63.4,23 63,21.6 62.2,20.9 61,20.4 59.3,20.1 57.5,20.3 55.7,19.2 51.9,18.2 45.7,17.9 37.9,18.3 34.3,19 32.3,20 30.9,21 30,22.2Z" fill="#fee55c"/>
<path d="M27.1,21C27.4,20.2 29.1,19.5 29.1,19.5C29.1,19.5 30.5,20.7 30.6,21.5C30.7,22.3 29.8,24.1 29.6,25.5C29.4,26.9 29.6,30.5 29.6,30.5C29.6,30.5 27.6,30.5 27.6,30.5C27.6,30.5 26.5,27 26.4,25.5C26.3,24 26.8,21.8 27.1,21Z" fill="#fee55c"/>
<path d="M107.1,44C107.6,42.6 110.5,42.3 111.1,42C111.7,41.7 113.1,41.5 113.1,41.5C113.1,41.5 112.4,44.8 112.1,46.5C111.8,48.2 111.4,50.2 111.1,51.5C110.8,52.8 110.6,54.2 110.1,55.5C109.6,56.8 108.9,58.3 108.1,59.5C107.3,60.7 105.7,62.3 105.1,62.7C104.5,63.1 103.1,62.7 103.1,62.7C103.1,62.7 105.4,58.8 106.1,57C106.8,55.2 107.7,53.4 107.8,51.5C107.9,49.6 106.6,45.4 107.1,44Z" fill="#fee55c"/>
<path d="M68.6,51.5C68.6,51.5 74.9,52.2 76.6,52.5C78.3,52.8 79.9,53.5 81.6,54C83.3,54.5 84.9,55 86.6,55.5C88.3,56 90,56.4 91.6,57C93.2,57.6 95.5,58.8 96.1,59.3C96.7,59.8 97.1,61.5 97.1,61.5C97.1,61.5 95.7,61.3 95.1,61C94.5,60.7 92.5,59.6 91.1,59C89.7,58.4 88.1,57.9 86.6,57.5C85.1,57.1 83.3,56.7 81.6,56.3C79.9,55.9 78.3,55.5 76.6,55.3C74.9,55.1 68.6,54.7 68.6,54.7C68.6,54.7 68.6,51.5 68.6,51.5Z" fill="#fee55c"/>
<path d="M87.6,20C87.9,19.6 90.1,17.8 91.6,17C93.1,16.2 95.5,15.3 97.6,14.8C99.7,14.3 102.3,14 104.6,13.8C106.9,13.6 109.3,13.5 111.6,13.3C113.9,13.1 116.9,12.8 119.6,12.7C122.3,12.6 125.6,12.7 127.6,12.9C129.6,13.1 132.2,13.6 133.6,14C135,14.4 136.3,15.1 137.6,15.7C138.9,16.3 140.1,17.4 141.6,17.5C143.1,17.6 144.9,16.7 146.6,16.5C148.3,16.3 151.6,16 151.6,16C151.6,16 151.6,20.5 151.6,20.5C151.6,20.5 87.6,21.5 87.6,21.5C87.6,21.5 87.3,20.4 87.6,20Z" fill="#fee55c"/>
<path d="M27.6,23.5C27.6,23.5 26.8,25.5 26.6,26.5C26.4,27.5 26.3,28.6 26.1,29.5C25.9,30.4 25.2,31.2 25.1,32C25,32.8 25,33.9 25.6,34.5C26.2,35.1 27.5,35.7 28.6,36C29.7,36.3 31.9,36.4 33.6,36.7C35.3,37 37.1,37.3 38.6,37.7C40.1,38.1 42.4,39 43.1,39C43.8,39 44.6,37.5 44.6,37.5C44.6,37.5 42.8,35.2 41.6,34.5C40.4,33.8 38.1,33.3 36.6,32.5C35.1,31.7 33.5,30.6 32.6,29.5C31.7,28.4 31.9,26.5 31.1,25.5C30.3,24.5 27.6,23.5 27.6,23.5Z" fill="#fee55c"/>
<path d="M148.6,17.5C148.6,17.5 152.6,16.6 154.6,16.5C156.6,16.4 159.8,16.5 161.6,17C163.4,17.5 165.4,18.5 166.6,19.5C167.8,20.5 168.8,22 169.1,23.5C169.3,25 168.8,27.1 168.1,28.5C167.3,29.9 165.9,31 164.6,32C163.3,33 161.5,34.4 159.6,34.7C157.7,35 149.6,34.7 149.6,34.7C149.6,34.7 151.6,30.3 151.6,28.5C151.6,26.7 150.1,25.2 149.6,23.5C149.1,21.8 148.6,17.5 148.6,17.5Z" fill="#fee55c"/>
<path d="M61.6,37.5C62.4,37.4 64.6,37.4 66,38C67.4,38.6 71.4,41.4 72.4,42C73.4,42.6 75.6,43.8 75.6,43.8C75.6,43.8 72.5,47 71.6,47.5C70.7,48 69.6,48.3 68.6,48.1C67.6,47.9 66.3,46.7 65.2,45.9C64.1,45.1 62.6,43.7 61.6,43C60.6,42.3 59.4,41.6 58.6,41C57.8,40.4 56.4,39.1 56.4,39.1C56.4,39.1 58.8,39.2 59.6,39C60.4,38.8 60.8,37.6 61.6,37.5Z" fill="#fee55c"/>
<path d="M72.8,29.5C70.8,30.6 69.4,32.8 67.6,34.1C65.8,35.4 62.8,37.2 62,37.7C61.2,38.2 59.6,39.2 59.6,39.2C59.6,39.2 62.2,40.7 63.6,40.5C65,40.3 67.6,38.5 69.6,37.5C71.6,36.5 73.8,35.6 75.6,34.5C77.4,33.4 79.8,31.6 80.6,30.5C81.4,29.4 81.6,26.5 81.6,26.5C81.6,26.5 74.8,28.4 72.8,29.5Z" fill="#fee55c"/>
<path d="M52.6,20C52.6,20 59.9,19.6 61.6,19.7C63.3,19.8 65.5,20.1 66.6,20.5C67.7,20.9 69.6,22.3 69.6,22.3C69.6,22.3 67.7,23.9 66.6,24.5C65.5,25.1 62.9,26.3 61.6,27C60.3,27.7 59,28.6 57.6,29C56.2,29.4 52.6,29.5 52.6,29.5C52.6,29.5 52.6,20 52.6,20Z" fill="#fee55c"/>
<path d="M65.6,36.7C65.6,36.7 69.7,34.7 71.6,33.5C73.5,32.3 76.4,30.6 77.6,29.5C78.8,28.4 79.9,26.6 80.6,25.5C81.3,24.4 81.8,22.6 82.6,22C83.4,21.4 85.6,21.5 85.6,21.5C85.6,21.5 84.5,28.2 83.6,30.5C82.7,32.8 81.9,35.9 79.6,36.7C77.3,37.5 65.6,36.7 65.6,36.7Z" fill="#fee55c"/>
<path d="M30.1,48.7C30.1,47.4 31.1,45.8 32.2,44.9C33.3,44 36.7,43.3 36.7,43.3C36.7,43.3 38,47 38,48.7C38,50.4 36.7,53.8 36.7,53.8C36.7,53.8 33.3,53.4 32.2,52.5C31.1,51.7 30.1,50 30.1,48.7Z" fill="#fee55c"/>
<path d="M143.2,55.9C143.4,54.9 144.2,53.8 145.1,53.3C146.1,52.8 148.1,52.3 149.6,52.3C151.1,52.3 154.4,52.9 156,53.3C157.6,53.7 159.6,54.5 160.5,55.2C161.3,56 161.9,57.4 161.8,58.4C161.7,59.5 161,61.1 159.8,61.6C158.7,62.1 155.6,62.1 153.4,62C151.3,61.9 148.2,61.3 147,61C145.9,60.6 144.5,59.9 143.8,59.1C143.2,58.2 143,56.8 143.2,55.9Z" fill="#fee55c"/>
<path d="M136.8,36.7C136.8,36.7 147,36.7 147,36.7C147,36.7 147.8,41.5 147.7,43.1C147.6,44.6 147.4,46.6 146.4,47.5C145.4,48.4 143.2,48.8 141.9,48.4C140.6,48.1 139.6,46.7 138.7,45.6C137.9,44.5 137.1,43.2 136.8,41.8C136.5,40.4 136.8,36.7 136.8,36.7Z" fill="#fee55c"/>
<path d="M31.6,23.1C32,22.3 32.8,21.7 33.6,21.3C34.4,20.9 35.6,20.5 36.6,20.3C37.6,20.1 39.9,20 41.6,19.9C43.3,19.8 44.9,19.7 46.6,19.7C48.3,19.7 50.4,19.8 51.6,20C52.8,20.2 54.4,20.6 55.1,20.9C55.8,21.2 56.4,21.9 57.1,22.1C57.9,22.3 58.9,21.8 59.6,21.9C60.3,22 61.6,22.8 61.6,22.8C61.6,22.8 61.1,24.4 60.6,25C60.1,25.6 59.3,26.1 58.6,26.5C57.9,26.9 56.6,27.7 55.6,28C54.6,28.3 53.3,28.3 52.6,28.5C51.9,28.7 51.1,29.2 50.6,29.5C50.1,29.8 49.7,30.3 49.1,30.5C48.5,30.7 47.8,31 47.1,31C46.4,31 45.8,30.5 45.1,30.5C44.4,30.5 43.7,30.7 43.1,31C42.5,31.3 41.8,31.9 41.6,32.5C41.4,33.1 41.7,33.9 42.1,34.5C42.5,35.1 43.5,35.5 44.1,36C44.7,36.5 45.6,37.4 46.1,38C46.6,38.6 47.6,40 47.6,40C47.6,40 45.6,39.8 44.6,39.5C43.6,39.2 42.4,38.8 41.6,38.3C40.8,37.8 40.3,37.1 39.6,36.5C38.9,35.9 37.9,35.2 37.1,34.5C36.3,33.8 35.2,32.8 34.4,32C33.6,31.2 32.5,30.4 32,29.5C31.5,28.6 31.2,27.5 31.1,26.5C31,25.5 31.2,23.9 31.6,23.1Z" fill="#fb7f1d"/>
<path d="M75.6,46.5C75.7,45.6 75.3,44.5 74.8,43.8C74.3,43.1 73.2,42.9 72.4,42.4C71.6,41.9 70.3,41.1 69.2,40.5C68.1,39.9 66,38.5 66,38.5C66,38.5 68.7,37.2 70,36.5C71.3,35.8 72.7,35.2 74,34.5C75.3,33.8 77.3,33.2 78.1,32.5C78.9,31.8 79,30.4 79.6,29.5C80.2,28.6 81.9,26.5 82.6,25.5C83.3,24.5 83.8,23.4 84.6,22.5C85.4,21.6 86.5,20.6 87.6,20C88.7,19.4 90.2,18.9 91.6,18.5C93,18.1 94.9,17.7 96.6,17.4C98.3,17.1 99.9,16.9 101.6,16.7C103.3,16.5 104.9,16.5 106.6,16.4C108.3,16.3 111.6,16.2 113.6,16.2C115.6,16.2 117.6,16.1 119.6,16.2C121.6,16.3 125.9,16.4 127.6,16.6C129.3,16.8 132,17.5 132.6,17.7C133.2,17.9 134.1,19 134.1,19C134.1,19 131.6,21 131.6,21C131.6,21 132.8,23.1 133.6,23.5C134.4,23.9 135.6,23.7 136.6,23.5C137.6,23.3 140,22.6 141.6,22C143.2,21.4 145,20.1 146.6,19.5C148.2,18.9 149.9,18.6 151.6,18.5C153.3,18.4 155,18.6 156.6,19C158.2,19.4 160.5,20.4 161.6,21C162.7,21.6 164.3,22.6 164.6,23.5C164.9,24.4 164.3,25.7 163.6,26.5C162.9,27.3 161,28.6 159.6,29.5C158.2,30.4 155.9,31.4 154.6,32C153.3,32.6 151.9,33 150.6,33.5C149.3,34 147.7,34.2 146.6,34.8C145.5,35.4 144.5,36.2 143.6,37C142.7,37.8 141.3,39.5 140.6,40.1C139.9,40.7 138.9,41.2 138.1,41.2C137.3,41.2 136.5,40.4 135.6,40.3C134.7,40.2 132.9,40.6 131.6,40.7C130.3,40.8 128.3,41.1 126.6,41.2C124.9,41.3 123.3,41.2 121.6,41.2C119.9,41.2 117.6,41.2 116.6,41.2C115.6,41.2 114.4,40.8 113.6,41C112.8,41.2 112.2,41.9 111.6,42.5C111,43.1 110.3,44.5 109.6,45.5C108.9,46.5 107.8,47.3 107.6,48.5C107.3,49.7 108.3,51.2 108.1,52.5C107.9,53.8 107.1,55.4 106.6,56.5C106.1,57.6 105.5,58.7 104.6,59.5C103.7,60.3 101.6,61.7 100.6,62C99.6,62.3 98.4,62 97.6,61.5C96.8,61 96.5,59.6 95.6,59C94.7,58.4 93,57.5 91.6,57C90.2,56.5 88.3,56 86.6,55.5C84.9,55 83.3,54.5 81.6,54C79.9,53.5 77.6,52.7 76.6,52.5C75.6,52.3 73.6,52 73.6,52C73.6,52 75.5,47.4 75.6,46.5Z" fill="#fb7f1d"/>
<path d="M76.6,44C76.6,44 75.3,43.5 74.8,43.8C74.3,44.1 71.8,46.5 71.2,46.9C70.6,47.3 69.9,47.9 69.2,47.7C68.5,47.5 66.3,46.1 65.2,45.3C64.1,44.5 63.2,43.3 62,42.5C60.8,41.7 59.4,40.7 58,40.3C56.6,39.9 54.3,40 53.6,40C52.9,40 52.1,40.1 51.6,40.5C51.1,40.9 50.9,42 50.6,42.5C50.3,43 50.2,43.8 49.6,44C49,44.2 47.6,43.7 46.6,43.7C45.6,43.7 43.3,43.6 41.6,43.7C39.9,43.8 37.6,44.1 36.6,44.5C35.6,44.9 34.5,46 34.1,46.5C33.7,47 33.4,47.9 33.6,48.5C33.8,49.1 34.8,50 35.6,50.5C36.4,51 38.3,51.6 39.6,52C40.9,52.4 42.3,52.6 43.6,53C44.9,53.4 46.5,53.8 47.6,54.3C48.7,54.8 49.7,55.3 50.6,56C51.5,56.7 52.7,57.7 53.6,58.5C54.5,59.3 55.2,60.3 56.1,61C57,61.7 58.1,62.8 59.1,63C60.1,63.2 61.2,62.5 62.1,62C63,61.5 63.8,60.7 64.6,60C65.4,59.3 66.8,57.8 67.6,57C68.4,56.2 69.5,55.3 70.1,54.5C70.7,53.7 70.7,52.3 71.6,52C72.5,51.7 76.6,52.5 76.6,52.5C76.6,52.5 76.6,44 76.6,44Z" fill="#fb7f1d"/>
<path d="M146.8,55.7C146.8,55.7 148.1,54.4 149,54.2C149.8,54 151.3,54.1 151.9,54.5C152.5,54.8 152.8,56.4 152.8,56.4C152.8,56.4 151.7,57.7 150.9,57.9C150.1,58.1 148.3,58 147.7,57.7C147.1,57.3 146.8,55.7 146.8,55.7Z" fill="#fb7f1d"/>
<path d="M32.8,23.8C32.8,23.8 34,23.4 34.4,23.5C34.8,23.6 35.4,24.3 35.4,24.3C35.4,24.3 35,25.1 34.6,25.2C34.2,25.3 33.1,25.1 33.1,25.1C33.1,25.1 32.8,23.8 32.8,23.8Z" fill="#fee55c"/>
<path d="M130.6,18.5C130.6,18.5 133.2,17.4 134.6,17.3C136,17.2 138,17.3 139.6,17.7C141.2,18.1 144.6,19.5 144.6,19.5C144.6,19.5 144.9,21.8 144.1,22.5C143.3,23.2 141.1,23.6 139.6,23.7C138.1,23.8 134.7,23.8 133.6,23.5C132.5,23.2 131.3,22.3 130.8,21.5C130.3,20.7 130.6,18.5 130.6,18.5Z" fill="#fee55c"/>
<path d="M131.6,19.5C131.6,19.5 133.5,18.6 134.6,18.5C135.7,18.4 137.5,18.6 138.1,19C138.7,19.4 138.8,21 138.8,21C138.8,21 137.5,22.3 136.6,22.5C135.7,22.7 133.7,22.5 133.1,22.3C132.5,22.1 131.8,21.4 131.6,21C131.4,20.6 131.6,19.5 131.6,19.5Z" fill="#c6d95b"/>
<path d="M123.6,26C123.6,26 126.2,25.1 127.6,25C129,24.9 132,24.8 133.6,25C135.2,25.2 137.3,25.8 138.1,26.5C138.9,27.2 139,28.7 138.6,29.5C138.2,30.3 136.8,31.3 135.6,31.5C134.4,31.7 131.3,31.6 129.6,31.3C127.9,31 125.5,30.3 124.6,29.5C123.7,28.7 123.6,26 123.6,26Z" fill="#fee55c"/>
<path d="M124.8,27C124.8,27 127.3,26.1 128.6,26C129.9,25.9 132.5,25.9 133.6,26.1C134.7,26.3 136.1,26.9 136.6,27.5C137.1,28.1 136.6,29.7 136.6,29.7C136.6,29.7 134.6,30.4 133.6,30.5C132.6,30.6 129.7,30.5 128.6,30.3C127.5,30.1 125.9,29.5 125.4,29C124.9,28.5 124.8,27 124.8,27Z" fill="#c6d95b"/>
<path d="M134.4,28.5C134.4,28.5 135.6,28.5 135.6,28.5C135.6,28.5 135.6,29.5 135.6,29.5C135.6,29.5 134.4,29.5 134.4,29.5C134.4,29.5 134.4,28.5 134.4,28.5Z" fill="#12c1b3"/>
<path d="M43.1,31.5C43.1,31.5 44.8,30.7 45.6,30.7C46.4,30.7 47.8,31.5 47.8,31.5C47.8,31.5 47.8,34.5 47.8,34.5C47.8,34.5 46.3,35.3 45.6,35.3C44.9,35.3 43.8,35.1 43.4,34.5C43,33.9 43.1,31.5 43.1,31.5Z" fill="#fee55c"/>
<path d="M45.6,32C45.6,32 47.8,31.2 48.6,31.3C49.4,31.4 50.5,31.8 50.8,32.5C51.1,33.2 50.6,35.5 50.6,35.5C50.6,35.5 48.5,36.2 47.8,36.1C47.1,36 46.3,35.6 46,35C45.7,34.4 45.6,32 45.6,32Z" fill="#c6d95b"/>
<path d="M86.1,42.3C86.1,42.3 88.3,41 89.6,40.7C90.9,40.4 92.9,40.6 94.6,40.6C96.3,40.6 98.4,40.3 99.6,40.5C100.8,40.7 102.5,41.3 103.1,41.8C103.7,42.3 104.3,43.2 104.1,44C103.9,44.8 102.9,46.1 102.1,47C101.3,47.9 99.5,49.9 98.6,50.5C97.7,51.1 95.6,51.7 95.6,51.7C95.6,51.7 94.5,49.5 94.1,48.5C93.7,47.5 93.7,46.4 93.1,45.5C92.5,44.6 91.6,43.8 90.6,43.3C89.6,42.8 86.1,42.3 86.1,42.3Z" fill="#f9492a"/>
<path d="M47.6,48.5C47.6,48.5 49.5,47.4 50.6,47.5C51.7,47.6 54,48.4 55.6,49C57.2,49.6 59.8,50.3 60.6,51C61.4,51.7 61.5,52.9 61.6,54C61.7,55.1 61.3,57.5 61.1,58.5C60.9,59.5 60.1,61.5 60.1,61.5C60.1,61.5 59.1,61.2 58.6,61C58.1,60.8 53.8,59.2 53.1,58.7C52.4,58.2 52.1,57.2 51.6,56.5C51.1,55.8 49.7,53.8 49.1,52.5C48.5,51.2 47.6,48.5 47.6,48.5Z" fill="#f9492a"/>
<path d="M109.1,28C109.1,28 110.5,28.9 111.1,29.5C111.7,30.1 113.3,31.2 113.6,32C113.8,32.8 112.6,34.5 112.6,34.5C112.6,34.5 110.7,34.6 110.1,34C109.5,33.4 108.8,32 108.6,31C108.4,30 109.1,28 109.1,28Z" fill="#f9492a"/>
<path d="M121.1,28.5C121.1,28.5 122.8,27.4 123.6,27.7C124.4,28 126,30.4 127.6,31C129.2,31.6 132.2,31.7 133.6,31.7C135,31.7 137.6,31 137.6,31C137.6,31 136.6,27 136.6,27C136.6,27 139.3,26.5 140.6,26C141.9,25.5 145.6,23.5 145.6,23.5C145.6,23.5 148.3,25.2 148.8,26.5C149.3,27.8 149.1,30.2 148.8,31.5C148.5,32.8 147.6,34.2 146.6,35C145.6,35.8 143.3,36 142.6,36C141.9,36 141.3,35.1 140.6,35C139.9,34.9 138.9,35.6 138.1,35.5C137.3,35.4 135.9,34.6 135.1,34.5C134.3,34.4 133.4,34.6 132.8,35C132.2,35.4 131.6,36.7 131.1,37.3C130.6,37.9 130.1,38.8 129.4,39.1C128.7,39.4 127.8,39.3 127.1,38.9C126.4,38.5 125.5,37.2 124.8,36.3C124.1,35.4 123.2,33.8 122.6,32.5C122,31.2 121.1,28.5 121.1,28.5Z" fill="#f9492a"/>
<path d="M139.6,28.5C140.1,27.6 140.7,26.3 141.6,25.5C142.5,24.7 144.7,23.6 145.6,23.5C146.5,23.4 147.6,23.7 148.1,24.5C148.6,25.3 148.9,27.2 148.8,28.5C148.7,29.8 147.8,31.1 147.4,32C147,32.9 147,34.4 146.1,34.7C145.2,35 139.6,34.7 139.6,34.7C139.6,34.7 138.6,32.5 138.6,31.5C138.6,30.5 139.1,29.4 139.6,28.5Z" fill="#f9492a"/>
<path d="M145.6,25.3C145.6,25.3 147.2,25 147.2,25C147.2,25 147.6,27.5 147.6,28.5C147.6,29.5 147,31.5 147,31.5C147,31.5 146,31.4 145.8,31C145.6,30.6 145.4,28.9 145.4,28C145.4,27.1 145.6,25.3 145.6,25.3Z" fill="#d7191c"/>
<path d="M148.3,55.1C148.3,55.1 150.2,54.6 150.2,54.6C150.2,54.6 151.1,55.9 151.1,55.9C151.1,55.9 149.6,56.6 149.6,56.6C149.6,56.6 148.3,55.1 148.3,55.1Z" fill="#f9492a"/>
<use href="#coast"/>
</g>
<use href="#axes"/>
</g>
<g transform="translate(28.4,152.3)">
<g clip-path="url(#cp)">
<rect x="-1" y="-1" width="178.8" height="92.5" fill="#0a9bd8"/>
<path d="M-18.4,81.7C-18.4,81.7 -7.7,81.7 -2.4,81.7C2.9,81.7 12.9,81.5 19.6,81.5C26.3,81.5 36.3,81.9 39.6,82C42.9,82.1 46.3,82.3 49.6,82.7C52.9,83.1 56.3,84 59.6,84.7C62.9,85.4 66.3,86.1 69.6,86.7C72.9,87.3 76.3,87.7 79.6,88.2C82.9,88.7 88.3,89.4 89.6,90C90.9,90.6 91.6,93.7 91.6,93.7C91.6,93.7 -18.4,93.7 -18.4,93.7C-18.4,93.7 -18.4,81.7 -18.4,81.7Z" fill="#5dcdf0"/>
<path d="M163.6,90.7C164.1,89.8 166.1,88 167.6,87.2C169.1,86.4 170.9,86 172.6,85.7C174.3,85.4 179.6,85.2 179.6,85.2C179.6,85.2 179.6,93.7 179.6,93.7C179.6,93.7 163.6,93.7 163.6,93.7C163.6,93.7 163.1,91.6 163.6,90.7Z" fill="#5dcdf0"/>
<path d="M-18.4,12.5C-18.4,12.5 -2.5,12.4 -0.4,12.5C1.7,12.6 3.9,12.8 6,13.1C8.1,13.4 10.9,14 12.6,14.2C14.3,14.4 16.3,14.3 17.6,14.2C18.9,14.1 20.2,13.5 21.6,13.5C23,13.5 25.3,14.1 26.6,14.2C27.9,14.3 29.3,14.1 30.6,14.2C31.9,14.3 34,14.4 35.6,14.7C37.2,15 39.6,15.5 41.6,16.2C43.6,16.9 45.6,18 47.6,18.7C49.6,19.4 52.3,20.1 53.6,20.2C54.9,20.3 56.7,20 57.6,19.7C58.5,19.4 59.2,18.6 60.1,18.2C61,17.8 62.4,17.5 63.6,17.2C64.8,16.9 66.8,16.3 68.4,16.1C70,15.9 72.5,15.8 74.6,15.7C76.7,15.6 79.6,15.8 81.6,15.7C83.6,15.6 85.6,15.4 87.6,15.1C89.6,14.8 91.8,14 94,13.7C96.2,13.4 98.6,13.2 100.6,13.2C102.6,13.2 104.6,13.4 106.6,13.7C108.6,14 111.1,14.7 113.2,15.1C115.3,15.5 117.4,16.2 119.6,16.3C121.8,16.4 126.3,15.9 128.4,15.7C130.5,15.5 132.7,15.1 134.8,15.1C136.9,15.1 139.1,15.7 141.2,15.7C143.3,15.7 145.5,15.5 147.6,15.1C149.7,14.7 151.9,13.6 154,13.1C156.1,12.6 158.3,12.4 160.4,12.2C162.5,12 164.7,11.9 166.8,11.9C168.9,11.9 186.6,11.9 186.6,11.9C186.6,11.9 186.6,72.7 186.6,72.7C186.6,72.7 182.6,72.4 180.6,72.5C178.6,72.6 167.9,73.3 161.6,73.5C155.3,73.7 146.3,74 139.6,74.1C132.9,74.2 126.3,74.2 119.6,74.1C112.9,74 106.3,73.6 99.6,73.5C92.9,73.4 82.3,73.6 79.6,73.5C76.9,73.4 73.8,73.1 71.6,72.5C69.4,71.9 67.6,70.4 65.6,69.5C63.6,68.6 61.2,67.6 59.6,67C58,66.4 56,65.5 54.6,65.5C53.2,65.5 51.6,66.3 50.6,67C49.6,67.7 49.6,69.4 48.6,70C47.6,70.6 44.9,71.2 43.6,71.5C42.3,71.8 40.9,71.8 39.6,72C38.3,72.2 32.9,73.1 29.6,73.5C26.3,73.9 22.9,74.4 19.6,74.5C16.3,74.6 12.9,74.1 9.6,74C6.3,73.9 0.3,73.6 -4.4,73.5C-9.1,73.4 -18.4,73.5 -18.4,73.5C-18.4,73.5 -18.4,12.5 -18.4,12.5Z" fill="#12c1b3"/>
<path d="M21.6,20.7C21.6,20.7 24.4,19.4 25.6,19.7C26.8,19.9 27.9,21.2 28.6,22.2C29.3,23.2 29.1,24.6 29.6,25.7C30.1,26.8 31.6,29.2 31.6,29.2C31.6,29.2 29.6,30 28.6,29.7C27.6,29.4 26.6,28 25.6,27.2C24.6,26.4 23.3,25.8 22.6,24.7C21.9,23.6 21.6,20.7 21.6,20.7Z" fill="#0a9bd8"/>
<path d="M32.6,22.7C32.6,22.7 35.8,20.9 37.6,20.7C39.4,20.5 42.1,21.2 43.6,21.7C45.1,22.2 47.6,24.2 47.6,24.2C47.6,24.2 45.8,26 44.6,26.2C43.4,26.4 40,25.9 38.6,25.7C37.2,25.5 35.4,25.1 34.6,24.7C33.8,24.3 32.6,22.7 32.6,22.7Z" fill="#0a9bd8"/>
<path d="M57.6,27.2C57.6,27.2 61.6,25.6 63.6,25.2C65.6,24.8 69.6,24.7 69.6,24.7C69.6,24.7 70.6,27.2 70.6,27.2C70.6,27.2 67.4,28.8 65.6,29.2C63.8,29.6 60.6,30 59.6,29.7C58.6,29.4 57.6,27.2 57.6,27.2Z" fill="#0a9bd8"/>
<path d="M10.5,22.7C10.5,22.7 14.3,21.7 16.2,21.7C18.2,21.7 23,22.4 23.9,22.7C24.8,23.1 25.2,25.3 25.2,25.3C25.2,25.3 21.9,27 20.1,27.2C18.3,27.5 14.9,27.1 13.7,26.8C12.5,26.6 11,25.6 10.5,25C10,24.4 10.5,22.7 10.5,22.7Z" fill="#0a9bd8"/>
<path d="M58.2,26.8C58.2,26.8 61.5,25.8 63.3,25.6C65,25.3 69.7,25.3 69.7,25.3C69.7,25.3 69.8,27.6 69,28.1C68.3,28.7 64.8,29.6 63.3,29.8C61.8,29.9 59.5,29.5 58.8,29.1C58.1,28.7 58.2,26.8 58.2,26.8Z" fill="#0a9bd8"/>
<path d="M131.6,19.7C131.6,19.7 134.5,18.8 135.6,18.9C136.7,19 138.8,20.2 138.8,20.2C138.8,20.2 138.4,22.2 138.4,22.2C138.4,22.2 135.6,22.6 134.6,22.5C133.6,22.4 132.2,21.9 131.8,21.5C131.4,21.1 131.6,19.7 131.6,19.7Z" fill="#0a9bd8"/>
<path d="M123.6,25.7C123.6,25.7 126.3,25 127.6,25.1C128.9,25.2 130.2,26.1 131.6,26.3C133,26.5 137.6,26.5 137.6,26.5C137.6,26.5 137.8,28.1 137.8,28.1C137.8,28.1 133.3,28.4 131.6,28.3C129.9,28.2 127.5,27.8 126.6,27.7C125.7,27.6 123.8,27.1 123.8,27.1C123.8,27.1 123.6,25.7 123.6,25.7Z" fill="#0a9bd8"/>
<path d="M117.6,17.2C117.6,17.2 122.6,17.2 122.6,17.2C122.6,17.2 122.8,19.1 122.8,19.1C122.8,19.1 117.8,19.1 117.8,19.1C117.8,19.1 117.6,17.2 117.6,17.2Z" fill="#0a9bd8"/>
<path d="M-18.4,39.3C-18.4,39.3 -5.2,39.2 -2.4,39.3C0.4,39.4 3.9,39.7 6,39.9C8.1,40.1 10.3,40.3 12.4,40.5C14.5,40.7 16.7,40.9 18.8,41C20.9,41.1 23.1,41.3 25.2,41.3C27.3,41.3 29.5,41.2 31.6,41.2C33.7,41.2 36.8,41.1 38,41.1C39.2,41.1 41.6,41.4 41.6,41.4C41.6,41.4 38.9,42.1 37.6,42.3C36.3,42.5 33.6,42.9 31.6,43.1C29.6,43.3 27.3,43.5 25.2,43.7C23.1,43.9 20.9,44.2 18.8,44.4C16.7,44.6 14.5,44.9 12.4,45.1C10.3,45.3 4.6,46 4.6,46C4.6,46 6.6,47.4 7.6,48C8.6,48.6 11.8,50.3 13.6,51.5C15.4,52.7 17.5,54.4 18.6,55.5C19.7,56.6 21.6,59 21.6,59C21.6,59 19,60.5 17.6,60.8C16.2,61.1 13.6,61 11.6,61C9.6,61 2.3,61 -2.4,61C-7.1,61 -18.4,61 -18.4,61C-18.4,61 -18.4,39.3 -18.4,39.3Z" fill="#0a9bd8"/>
<path d="M141.6,44.7C141.7,43.9 142.7,41.9 143.6,40.7C144.5,39.5 145.7,38.3 147,37.6C148.3,36.9 150.2,36.6 151.6,36.3C153,36 154.5,35.9 156,35.9C157.5,35.9 159.7,36.1 161.6,36.3C163.5,36.5 166.3,37 168.6,37.4C170.9,37.8 173.9,38.4 176.6,38.7C179.3,39 186.6,39.2 186.6,39.2C186.6,39.2 186.6,55.7 186.6,55.7C186.6,55.7 179.3,55 176.6,54.7C173.9,54.4 171.2,54 168.6,53.4C166,52.8 162.6,51.6 159.6,50.7C156.6,49.8 151.7,48.2 149.6,47.7C147.5,47.2 143.9,47 143.1,46.7C142.3,46.4 141.5,45.5 141.6,44.7Z" fill="#0a9bd8"/>
<path d="M22,48.7C22.1,48.3 22.7,46.1 23.6,45.2C24.5,44.3 26.1,43.4 27.6,43C29.1,42.6 31.6,42.5 33.6,42.3C35.6,42.1 37.9,42.1 39.6,41.9C41.3,41.7 43.5,41.5 44.6,41.2C45.7,40.9 47.6,39.7 47.6,39.7C47.6,39.7 47.1,38.2 46.6,37.7C46.1,37.2 44.3,36.2 43.6,35.7C42.9,35.2 41.6,34.2 41.6,34.2C41.6,34.2 43.6,33.9 44.6,34.2C45.6,34.5 47.3,35.6 48.6,36.2C49.9,36.8 51.2,38.2 52.6,38C54,37.8 56.7,35.5 58.6,34.9C60.5,34.3 62.6,34.4 64.6,34.2C66.6,34 69.9,33.8 71.6,33.7C73.3,33.6 74.9,33.4 76.6,33.2C78.3,33 79.9,32.9 81.6,32.7C83.3,32.5 84.9,32.4 86.6,32.2C88.3,32 89.9,31.9 91.6,31.7C93.3,31.5 94.9,31.4 96.6,31.2C98.3,31 100.2,30.9 101.6,30.7C103,30.5 104.3,30 105.6,29.7C106.9,29.4 108.3,28.9 109.6,28.9C110.9,28.9 112.6,29.3 113.6,29.5C114.6,29.7 115.6,30 116.6,30C117.6,30 120.6,29.4 121.6,29.2C122.6,29 123.6,28.3 124.6,28.3C125.6,28.3 127.3,28.9 128.6,29.2C129.9,29.5 131.3,30 132.6,30.2C133.9,30.4 135.5,30.8 136.6,30.7C137.7,30.6 138.6,30.1 139.6,29.7C140.6,29.3 142.6,28.5 143.6,28.2C144.6,27.9 145.6,27.2 146.6,27.3C147.6,27.4 149.9,28.1 150.6,28.7C151.3,29.3 151.8,30.4 151.6,31.2C151.4,32 150.5,33.1 149.6,33.7C148.7,34.3 146.6,34.6 145.6,35.2C144.6,35.8 143.6,36.8 143.1,37.7C142.6,38.6 142.4,39.7 142.6,40.7C142.8,41.7 143.3,42.9 144.1,43.7C144.9,44.5 147.1,45.5 147.6,46.2C148.1,46.9 147.8,47.9 148.1,48.7C148.4,49.4 148.9,50.3 149.6,50.7C150.3,51.1 152.3,51.7 153.6,52.2C154.9,52.7 157.2,53.5 158.6,54.2C160,54.9 161.8,55.8 162.6,56.7C163.4,57.6 163.5,59.5 163.6,60.2C163.7,60.9 163.5,61.7 163.1,62.2C162.7,62.7 161.6,63.7 160.6,63.9C159.6,64.1 156.6,64.3 154.6,64.2C152.6,64.1 148.7,63.4 147.6,63C146.5,62.6 145.7,61.4 144.6,61C143.5,60.6 141.3,60.2 139.6,60C137.9,59.8 132.9,59.5 129.6,59.5C126.3,59.5 121.3,59.6 119.6,60.1C117.9,60.6 117.2,62.7 115.6,63.5C114,64.3 112,64.7 110.1,64.8C108.2,64.9 105,64.6 103.6,64.3C102.2,64 101,63.1 99.6,62.9C98.2,62.7 92.9,62.5 89.6,62.1C86.3,61.7 82.3,60.7 79.6,60.5C76.9,60.3 73.7,60.3 71.6,60.5C69.5,60.7 67.6,61.4 65.6,62.1C63.6,62.8 60.9,64.1 59.6,64.5C58.3,64.9 56.5,65.7 55.6,65.5C54.7,65.3 54.2,64.2 53.6,63.5C53,62.8 51.1,60.2 49.6,59C48.1,57.8 46.2,57.1 44.4,56.4C42.6,55.7 40.1,55.2 38,54.5C35.9,53.8 33.6,52.9 31.6,52.3C29.6,51.7 26.6,51.2 25.6,50.9C24.6,50.6 23,50.1 22.6,49.9C22.2,49.7 21.9,49.1 22,48.7Z" fill="#c6d95b"/>
<path d="M112.6,45.3C112.6,45.3 118.6,44.6 121.6,44.5C124.6,44.4 129.9,44.4 131.6,44.5C133.3,44.6 135.4,44.9 136.6,45.3C137.8,45.7 138.6,46.8 139.6,47.5C140.6,48.2 143.6,49.7 143.6,49.7C143.6,49.7 141,51.4 139.6,51.8C138.2,52.2 135.6,52.6 133.6,52.7C131.6,52.8 128.3,52.6 125.6,52.3C122.9,52 119.3,51.6 117.6,51C115.9,50.4 113.7,48.7 113.1,48C112.5,47.3 112.6,45.3 112.6,45.3Z" fill="#12c1b3"/>
<path d="M125.6,46.9C125.6,46.9 128.2,46.1 129.6,46C131,45.9 133.5,46.1 134.6,46.3C135.7,46.5 137.6,47.7 137.6,47.7C137.6,47.7 135.7,49.1 134.6,49.3C133.5,49.5 129.6,49.6 128.6,49.5C127.6,49.4 125.6,48.5 125.6,48.5C125.6,48.5 125.6,46.9 125.6,46.9Z" fill="#0a9bd8"/>
<path d="M131.2,32.3 131.6,34.3 133.1,36.4 135.1,37.8 136.9,38.7 139,40.8 140.3,41.1 142,40.4 143.1,39 143.5,37.4 143.1,35.8 145.5,33.3 145.9,32.2 146,31.3 145.5,30.1 144.3,29 142.5,28.1 140.5,27.7 139,28.2 137.7,29.7 135.4,29.3 132.9,29.9 131.6,31Z" fill="#fee55c"/>
<path d="M48.7,42.2 46.6,42 41.4,42.2 38.3,42.8 36.4,43.5 34.8,44.5 33.8,45.9 33.4,47.8 33.7,49.3 35,51.2 37.3,53 39,53.8 45.1,55.4 47.8,56.5 50.4,58.3 55.8,63.2 57.5,64 59,64.2 60.6,63.9 62.6,62.8 67.2,58.6 71.9,54.8 73,55.1 77.4,55.1 92.5,56.9 93.4,57.2 94.3,59.6 96,60.8 97.4,61.1 99.1,61.2 101.5,60.5 103.1,59.7 104.4,58.6 105.8,56.3 106.6,53.5 107.4,48.2 107.9,46.3 109.3,42.9 109.5,41.6 109.2,39.9 108.4,38.3 107.3,37.2 105.6,36.5 98.7,36 84.5,35.8 79.4,35.9 72.3,36.7 71.5,36.9 70.3,37.8 69.5,39.3 69.3,40.6 67.5,40 65.3,39.6 63.9,39.7 62.3,40.1 59.3,38.7 57.5,38.3 54.9,38.1 52.1,38.2 51,38.6 50,39.5Z" fill="#fee55c"/>
<path d="M71.6,36.7C71.6,36.7 78.3,35.5 81.6,35.2C84.9,34.9 88.3,34.9 91.6,34.7C94.9,34.5 100.2,34.3 101.6,34.2C103,34.1 104.3,33.6 105.6,33.2C106.9,32.8 108.3,32.2 109.6,32C110.9,31.8 112.3,31.7 113.6,31.7C114.9,31.7 116.3,31.8 117.6,31.7C118.9,31.6 120.3,31.1 121.6,30.9C122.9,30.7 124.3,30.6 125.6,30.7C126.9,30.8 128.3,31.1 129.6,31.5C130.9,31.9 132.8,32.5 133.6,33C134.4,33.5 135.5,34.2 135.6,35.2C135.7,36.1 134.9,37.7 134.1,38.7C133.3,39.7 131.8,40.7 130.6,41.2C129.4,41.7 127.7,42.1 126.6,41.7C125.5,41.3 124.9,39.6 124.1,38.7C123.3,37.8 121.6,36.2 121.6,36.2C121.6,36.2 119.4,36.9 118.6,37.7C117.8,38.5 117.4,40.3 116.6,41.2C115.8,42.1 113.6,43.2 113.6,43.2C113.6,43.2 111.4,41.6 110.6,40.7C109.8,39.8 109.4,38.3 108.6,37.7C107.8,37.1 106.6,37.2 105.6,37.2C104.6,37.2 96.3,37.9 91.6,38.2C86.9,38.5 71.6,39.7 71.6,39.7C71.6,39.7 71.6,36.7 71.6,36.7Z" fill="#fee55c"/>
<path d="M144.6,28.2C144.6,28.2 147.7,27.4 148.6,27.5C149.5,27.6 150.5,28.4 150.8,29.2C151.1,30 150.9,31.4 150.4,32.2C149.9,32.9 148.6,33.4 147.6,33.7C146.6,34 144.6,34.2 144.6,34.2C144.6,34.2 144.6,28.2 144.6,28.2Z" fill="#fee55c"/>
<path d="M143.2,53.4C143.2,53.4 145.7,52.5 147,52.5C148.4,52.5 152.2,53.4 152.2,53.4C152.2,53.4 151.9,56.6 151.9,56.6C151.9,56.6 149,57.6 147.7,57.6C146.3,57.6 144.6,57 143.8,56.3C143.1,55.6 143.2,53.4 143.2,53.4Z" fill="#fee55c"/>
<path d="M30.3,48.9C30.3,47.6 31.5,46.1 32.6,45.3C33.8,44.5 38,43.5 38,43.5C38,43.5 38.8,47.1 38.6,48.9C38.4,50.7 36.7,54.7 36.7,54.7C36.7,54.7 33.7,54 32.6,53C31.6,52 30.3,50.2 30.3,48.9Z" fill="#fee55c"/>
<path d="M39.5,35.1C39.5,35.1 42.4,35.3 43.8,35.8C45.1,36.3 50.8,39.3 50.8,39.3C50.8,39.3 50.2,40.6 50.2,40.6C50.2,40.6 44.4,38.1 43.1,37.6C41.9,37.1 39.3,36.4 39.3,36.4C39.3,36.4 39.5,35.1 39.5,35.1Z" fill="#fee55c"/>
<path d="M128.1,24.9C128.1,24.9 131.1,24.5 131.1,24.5C131.1,24.5 131.2,25.7 131.2,25.7C131.2,25.7 128.2,26.1 128.2,26.1C128.2,26.1 128.1,24.9 128.1,24.9Z" fill="#fee55c"/>
<path d="M68.6,52.2C69.8,51.9 73.3,52.6 75.6,52.9C77.9,53.2 81.3,53.6 83.6,53.9C85.9,54.2 89.2,54.5 90.6,54.7C92,54.9 93.7,55 94.6,55.7C95.5,56.4 95.6,57.9 96.1,58.7C96.6,59.5 97.6,61 97.6,61C97.6,61 95,59.7 93.6,59.2C92.2,58.7 89.6,57.9 87.6,57.5C85.6,57.1 82.3,56.6 79.6,56.3C76.9,56 73.3,55.6 71.6,55.5C69.9,55.4 66.6,55.2 66.6,55.2C66.6,55.2 67.4,52.5 68.6,52.2Z" fill="#fee55c"/>
<path d="M75.6,42.5C75.6,42.5 72.5,43.4 71.2,43.3C69.9,43.2 68.6,42.3 67.6,42C66.6,41.7 65.5,41.5 64.6,41.5C63.7,41.5 62.9,42.2 62,42C61.1,41.8 59.4,40.6 58,40.3C56.6,40 54.3,40 53.6,40C52.9,40 52.1,40.1 51.6,40.5C51.1,40.9 50.9,42 50.6,42.5C50.3,43 50.2,43.8 49.6,44C49,44.2 47.6,43.9 46.6,43.9C45.6,43.9 43,43.9 41.6,44.1C40.2,44.3 38.4,44.7 37.6,45C36.8,45.3 36,45.9 35.6,46.5C35.2,47.1 35.2,47.9 35.4,48.5C35.6,49.1 36.4,49.9 37.1,50.5C37.8,51.1 38.7,51.7 39.6,52C40.5,52.3 42.3,52.6 43.6,53C44.9,53.4 46.5,53.8 47.6,54.3C48.7,54.8 49.7,55.3 50.6,56C51.5,56.7 52.7,57.7 53.6,58.5C54.5,59.3 55.4,60.4 56.1,61C56.8,61.6 57.8,62.2 58.6,62.3C59.4,62.4 60.3,61.9 61.1,61.5C61.9,61.1 62.9,60.1 63.6,59.5C64.3,58.9 64.9,58.1 65.6,57.5C66.3,56.9 67.4,56 68.1,55.5C68.8,55 69.5,54.5 70.1,54C70.7,53.5 70.9,52.5 71.6,52.3C72.3,52.1 75.6,52.5 75.6,52.5C75.6,52.5 75.6,42.5 75.6,42.5Z" fill="#fb7f1d"/>
<path d="M71.6,39.2C71.6,39.2 74.9,38.4 76.6,38.2C78.3,38 79.9,37.8 81.6,37.7C83.3,37.6 88.3,37.7 91.6,37.7C94.9,37.7 100.1,37.9 101.6,38C103.1,38.1 105.1,38.1 106.1,38.7C107.1,39.3 107.6,40.6 107.6,41.7C107.6,42.8 106.5,44.4 106.1,45.7C105.7,47 105.3,48.4 105.1,49.7C104.9,51 104.9,52.5 104.6,53.7C104.3,54.9 103.9,56.3 103.1,57.2C102.3,58.1 100.8,59 99.6,59.2C98.4,59.4 96.9,59.3 96.1,58.7C95.3,58.1 95.5,56.4 94.6,55.7C93.7,55 92,54.9 90.6,54.7C89.2,54.5 86.6,54.2 84.6,54C82.6,53.8 79.6,53.4 77.6,53.2C75.6,53 71.6,52.5 71.6,52.5C71.6,52.5 71.6,47.9 71.6,45.7C71.6,43.5 71.6,39.2 71.6,39.2Z" fill="#fb7f1d"/>
<path d="M133.1,32.2C133.1,32.2 134.7,31.3 135.6,31.2C136.5,31.1 137.8,31.9 138.6,31.7C139.3,31.4 139.4,29.9 140.1,29.7C140.8,29.4 142,29.9 142.6,30.2C143.2,30.5 144.1,31.7 144.1,31.7C144.1,31.7 143.1,33.2 142.6,33.7C142.1,34.2 141.3,34.5 141.1,35.2C140.9,35.9 141.8,37 141.6,37.7C141.4,38.4 140.1,39.2 140.1,39.2C140.1,39.2 138.7,37.6 138.1,37.2C137.5,36.8 136.7,36.6 136.1,36.2C135.5,35.8 134.6,35.4 134.1,34.7C133.6,34 133.1,32.2 133.1,32.2Z" fill="#fb7f1d"/>
<path d="M95.1,42.5C95.6,41.8 97.1,41.2 98.3,41.2C99.4,41.2 102.1,42.5 102.1,42.5C102.1,42.5 102.4,45.2 101.9,46.3C101.3,47.5 99.8,49.1 98.9,49.5C98,49.9 96.6,49.5 96,48.9C95.3,48.3 95.1,46.8 95,45.7C94.8,44.6 94.5,43.2 95.1,42.5Z" fill="#f9492a"/>
<path d="M53.4,49.9C53.4,49.9 55.1,48.8 55.9,48.9C56.8,49 58.2,50.1 58.5,50.8C58.8,51.6 57.8,53.4 57.8,53.4C57.8,53.4 56,53.7 55.3,53.4C54.6,53.1 53.9,52.2 53.6,51.7C53.3,51.2 53.4,49.9 53.4,49.9Z" fill="#f9492a"/>
<path d="M140.2,30.1C140.2,30.1 141.9,30.2 142.4,30.4C142.9,30.6 143.4,31.7 143.4,31.7C143.4,31.7 142.2,32.7 141.6,32.7C141,32.7 140.2,32.1 140,31.7C139.8,31.3 140.2,30.1 140.2,30.1Z" fill="#f9492a"/>
<path d="M33.4,29.9C33.4,29.9 34.7,29.9 34.7,29.9C34.7,29.9 34.9,31.7 34.9,31.7C34.9,31.7 33.6,31.7 33.6,31.7C33.6,31.7 33.4,29.9 33.4,29.9Z" fill="#fb7f1d"/>
<use href="#coast"/>
</g>
<use href="#axes"/>
</g>
<g transform="translate(275.8,19.5)">
<g clip-path="url(#cp)">
<rect x="-1" y="-1" width="178.8" height="92.5" fill="#fdbe70"/>
<path d="M-13.8,78C-13.8,78 -4.5,78.1 0.2,78C4.9,77.9 11.6,77.7 17.2,77.1C22.8,76.5 32.2,74.9 35.2,74.5C38.2,74.1 41.2,73.5 44.2,73.5C47.2,73.5 50.2,74.2 53.2,74.5C56.2,74.8 68.2,75.9 71.2,76.2C74.2,76.5 77.2,77.5 80.2,77.5C83.2,77.5 86.2,76.6 89.2,76.1C92.2,75.6 95.2,74.6 98.2,74.5C101.2,74.4 104.2,75.3 107.2,75.3C110.2,75.3 119.2,74.8 125.2,74.5C131.2,74.2 137.2,73.8 143.2,73.5C149.2,73.2 155.2,72.8 161.2,72.7C167.2,72.6 176.9,72.7 180.2,72.7C183.5,72.7 190.2,72.7 190.2,72.7C190.2,72.7 190.2,88.5 190.2,88.5C190.2,88.5 -13.8,88.5 -13.8,88.5C-13.8,88.5 -13.8,78 -13.8,78Z" fill="#fee497"/>
<path d="M-13.8,35.5C-13.8,35.5 -2.8,35.5 0.2,35.5C3.2,35.5 7.5,35.6 9.2,35.5C10.9,35.4 12.5,34.8 14.2,34.5C15.9,34.2 17.6,34 19.2,33.5C20.8,33 23,32.2 24.2,31.5C25.4,30.8 26.5,29.4 27.2,28.5C27.9,27.6 27.9,26.3 28.7,25.5C29.5,24.7 30.9,23.7 32.2,23.3C33.5,22.9 36.2,22.8 38.2,22.8C40.2,22.8 42.5,23 44.2,23.1C45.9,23.2 48,23.2 49.2,23.5C50.4,23.8 51.8,24.8 52.2,25.5C52.6,26.2 52.1,27.3 51.7,28C51.3,28.7 50.3,30.1 49.2,30.5C48.1,30.9 45.6,30.7 44.2,31C42.8,31.3 41.1,31.9 40.2,32.5C39.3,33.1 38.2,35 38.2,35C38.2,35 40.1,36.6 41.2,37C42.3,37.4 44.5,37.8 46.2,38C47.9,38.2 50.2,38.6 52.2,38.5C54.2,38.4 56.2,37.7 58.2,37.5C60.2,37.3 62.5,36.8 64.2,37C65.9,37.2 67.6,37.9 69.2,38.5C70.8,39.1 72.5,39.9 74.2,40.5C75.9,41.1 78.5,41.8 80.2,42.5C81.9,43.2 83.4,44.5 85.2,45C87,45.5 89.9,45.7 92.2,46C94.5,46.3 97.5,46.8 100.2,47C102.9,47.2 106.2,47.3 109.2,47.5C112.2,47.7 115.9,48.3 119.2,48.5C122.5,48.7 126.5,49 129.2,49C131.9,49 135.6,49 137.2,48.5C138.8,48 139.9,46.6 141.2,45.5C142.5,44.4 143.9,42.6 145.2,41.5C146.5,40.4 148,39.1 149.2,38.5C150.4,37.9 151.9,37.9 153.2,37.5C154.5,37.1 157.1,35.8 159.2,35.5C161.3,35.2 165.2,35 168.2,35C171.2,35 176.9,35.4 180.2,35.5C183.5,35.6 190.2,35.5 190.2,35.5C190.2,35.5 190.2,63.5 190.2,63.5C190.2,63.5 183.5,63.4 180.2,63.5C176.9,63.6 167.2,64.5 161.2,64.5C155.2,64.5 149.2,63.9 143.2,63.6C137.2,63.3 131.2,63 125.2,62.7C119.2,62.4 113.2,62.1 107.2,61.8C101.2,61.5 95.2,60.8 89.2,60.9C83.2,61.1 75.5,62.2 71.2,62.7C66.9,63.2 61.2,64.3 58.2,64.5C55.2,64.7 52.2,64.6 49.2,64.5C46.2,64.4 39.9,63.6 35.2,63.5C30.5,63.4 22.9,63.6 17.2,63.5C11.5,63.4 4.9,62.8 0.2,62.7C-4.5,62.6 -13.8,62.7 -13.8,62.7C-13.8,62.7 -13.8,35.5 -13.8,35.5Z" fill="#f88e52"/>
<path d="M70.2,37.5C70.2,37.5 74.6,40.9 76.2,42C77.8,43.1 79.5,44.1 81.2,45C82.9,45.9 85.8,47.1 87.2,48C88.6,48.9 90.1,49.8 91.2,51C92.3,52.2 93.4,53.9 94.2,55.5C95,57.1 95.1,59.1 96.2,60.5C97.3,61.9 101.2,64.5 101.2,64.5C101.2,64.5 104.7,62.8 106.2,61.5C107.7,60.2 109.1,58.3 110.2,56.5C111.3,54.7 113,51.7 113.2,50.5C113.4,49.3 113.1,47.8 112.2,47C111.3,46.2 108.3,45 106.2,44.5C104.1,44 100.9,43.8 98.2,43.5C95.5,43.2 92.8,43 90.2,42.5C87.6,42 84.4,41.3 82.2,40.5C80,39.7 78.1,37.5 76.2,37C74.3,36.5 70.2,37.5 70.2,37.5Z" fill="#fdbe70"/>
<path d="M145.2,53.5C145.2,53.5 148.5,52.3 150.2,52C151.9,51.7 154.5,51.3 156.2,51.5C157.9,51.7 159.9,52.2 161.2,53C162.5,53.8 163.9,55.1 164.2,56.5C164.5,57.9 164.2,60.1 163.2,61.5C162.2,62.9 160.2,64.5 158.2,65C156.2,65.5 153.2,65.2 151.2,64.5C149.2,63.8 147.2,62.3 146.2,60.5C145.2,58.7 145.2,53.5 145.2,53.5Z" fill="#fdbe70"/>
<path d="M12.2,39.8C12.2,39.8 20.9,39.2 24.2,38.9C27.5,38.6 31.9,38.3 34.2,38.1C36.5,37.9 41.2,37.3 41.2,37.3C41.2,37.3 41.7,38.8 41.7,38.8C41.7,38.8 36.7,39.6 34.2,39.9C31.7,40.2 27.5,40.5 24.2,40.7C20.9,40.9 12.2,41.1 12.2,41.1C12.2,41.1 12.2,39.8 12.2,39.8Z" fill="#fdbe70"/>
<path d="M90.2,33.7C90.2,33.7 93.5,32.2 95.3,31.8C97.1,31.4 100,31 101.7,31.1C103.5,31.2 106.8,32.4 106.8,32.4C106.8,32.4 106.6,36.3 106.6,36.3C106.6,36.3 102.5,37.6 100.4,37.8C98.3,38 95.3,37.5 94,37.3C92.8,37.1 91,36.5 90.5,36C89.9,35.5 90.2,33.7 90.2,33.7Z" fill="#f88e52"/>
<path d="M107.1,29.9C107.7,29 109.3,27.7 110.7,27.3C112.1,26.9 114.5,26.9 115.8,27.3C117.1,27.7 118.6,28.6 119,29.9C119.4,31.2 119.3,34.3 118.4,35.6C117.4,36.9 114.8,37.7 113.2,37.8C111.7,37.9 109.8,37 108.8,36.3C107.8,35.5 107.1,34.1 106.8,33.1C106.6,32 106.5,30.8 107.1,29.9Z" fill="#f88e52"/>
<path d="M114.3,30.1C114.3,30.1 116.6,29.9 116.6,29.9C116.6,29.9 116.8,31.9 116.8,31.9C116.8,31.9 114.5,32.2 114.5,32.2C114.5,32.2 114.3,30.1 114.3,30.1Z" fill="#e95739"/>
<path d="M18.2,47.5C18.2,47.5 22.7,45 25.2,44.5C27.7,44 35.2,43.4 39.2,43.1C43.2,42.8 48.5,42.7 51.2,42.5C53.9,42.3 57.1,41.3 59.2,41.5C61.3,41.7 64,42.3 65.2,43.5C66.4,44.7 66.9,47 66.2,48.5C65.5,50 63.2,51.8 61.2,52.5C59.2,53.2 54.6,53.7 51.2,53.9C47.8,54.1 43.2,53.8 39.2,53.5C35.2,53.2 29.9,52.4 27.2,51.9C24.5,51.4 20,50.3 19.2,49.9C18.4,49.5 18.2,47.5 18.2,47.5Z" fill="#e95739"/>
<path d="M155.2,43.3C155.2,43.3 158.5,42.3 160.2,42.3C161.9,42.3 163.7,42.8 165.2,43.5C166.7,44.2 168.2,45.4 169.2,46.5C170.2,47.6 171.2,50.5 171.2,50.5C171.2,50.5 169.4,52.3 168.2,52.5C167,52.7 164,52.4 162.2,52C160.4,51.6 158.4,50.8 157.2,50C156,49.2 155,47.5 154.7,46.5C154.4,45.5 155.2,43.3 155.2,43.3Z" fill="#fdbe70"/>
<path d="M143.2,43.5C143.2,43.5 145.7,43.1 145.7,43.1C145.7,43.1 146.7,44.9 146.5,45.5C146.3,46.1 144.7,47 144.7,47C144.7,47 143.4,46.4 143.2,45.8C142.9,45.2 143.2,43.5 143.2,43.5Z" fill="#f88e52"/>
<path d="M156.2,47.5C156.2,47.5 158.7,47.3 158.7,47.3C158.7,47.3 159.2,49.5 159.2,49.5C159.2,49.5 157,50.1 157,50.1C157,50.1 156.2,47.5 156.2,47.5Z" fill="#e95739"/>
<path d="M-13.8,1.3C-13.8,1.3 -3.8,1.3 0.2,1.3C4.2,1.3 8.2,1.4 12.2,1.5C16.2,1.6 24.2,1.8 25.2,2C26.2,2.2 26.7,4.5 26.7,4.5C26.7,4.5 21.1,5.8 18.2,6C15.3,6.2 10.9,5.6 8.2,5.7C5.5,5.8 2.9,6.4 0.2,6.5C-2.5,6.6 -13.8,6.5 -13.8,6.5C-13.8,6.5 -13.8,1.3 -13.8,1.3Z" fill="#fee497"/>
<path d="M-13.8,11.5C-13.8,11.5 -2.2,11.4 0.2,11.5C2.6,11.6 6,11.8 7.2,12.5C8.4,13.2 8.2,16.5 8.2,16.5C8.2,16.5 5.5,17.6 4.2,17.7C2.9,17.8 1.5,17.3 0.2,17.3C-1.1,17.3 -13.8,17.3 -13.8,17.3C-13.8,17.3 -13.8,11.5 -13.8,11.5Z" fill="#fee497"/>
<path d="M16.2,10.5C16.2,10.5 20.1,8.9 22.2,8.5C24.3,8.1 28.9,7.7 32.2,7.5C35.5,7.3 38.9,7 42.2,7C45.5,7 50.3,7.1 52.2,7.5C54.1,7.9 57.2,10.5 57.2,10.5C57.2,10.5 57.3,13.7 56.2,14.5C55.1,15.3 51.6,15.7 49.2,16C46.8,16.3 42.5,16.6 39.2,16.5C35.9,16.4 31.9,15.9 29.2,15.5C26.5,15.1 23.1,14.7 21.2,14C19.3,13.3 16.2,10.5 16.2,10.5Z" fill="#fee497"/>
<path d="M61.2,4C61.2,4 66.5,2.6 69.2,2.5C71.9,2.4 80.2,3.5 80.2,3.5C80.2,3.5 80.5,7 79.7,8.5C78.9,10 76.9,11.6 75.2,12.5C73.4,13.4 71,14.3 69.2,14C67.4,13.7 65.5,12.1 64.2,10.5C62.9,8.9 61.2,4 61.2,4Z" fill="#fee497"/>
<path d="M94,40.1C94,40.1 97.4,39.2 99.2,39.2C100.9,39.2 104.6,39.4 105.6,39.8C106.5,40.3 107.1,42.7 107.1,42.7C107.1,42.7 104.6,44.9 103,45.2C101.4,45.6 97.7,45.2 96.6,45C95.5,44.7 94.2,43.7 93.8,42.9C93.4,42.1 94,40.1 94,40.1Z" fill="#fee497"/>
<path d="M150.3,0.5C151.8,0.3 175.5,0.4 176.8,0.5C178.1,0.7 178.8,2.7 178.5,4C178.2,5.2 176.5,8.1 174.6,9.1C172.8,10.1 169.5,10 167,10.4C164.4,10.8 160.7,11 159.3,11.7C157.9,12.3 157.4,14.5 156.7,15.5C156.1,16.5 155.5,17.7 154.8,18.7C154.1,19.7 152.7,21.5 151.6,22.5C150.5,23.6 149.3,24.9 147.8,25.1C146.3,25.3 144.1,24.7 142.6,23.8C141.1,23 139.7,21.3 138.8,20C137.9,18.7 137.3,17 137.3,15.5C137.3,14 137.9,12.3 138.8,11C139.7,9.7 141.8,8 143.3,6.9C144.7,5.9 146.9,5.4 148,4.4C149.1,3.4 148.8,0.7 150.3,0.5Z" fill="#fee497"/>
<path d="M161.8,4.9C161.8,4.9 166.1,4.3 168.2,4.4C170.4,4.4 174.6,5.3 174.6,5.3C174.6,5.3 174,8.2 174,8.2C174,8.2 168.6,8.8 167,8.7C165.3,8.6 162.1,7.4 162.1,7.4C162.1,7.4 161.8,4.9 161.8,4.9Z" fill="#fdbe70"/>
<path d="M133.8,22.8C135,22.1 138.1,21.6 140.2,21.5C142.4,21.4 149.2,22.2 149.2,22.2C149.2,22.2 150.2,25.7 149.8,27.3C149.5,28.9 148.8,30.9 147.3,31.8C145.8,32.6 142.2,32.8 140.2,32.7C138.3,32.6 135.8,32.1 134.5,31.1C133.2,30.1 132.7,28 132.6,26.7C132.5,25.3 132.7,23.6 133.8,22.8Z" fill="#fee497"/>
<path d="M123.6,28.6C124.4,27.8 126.5,27.1 128.1,27C129.7,26.9 132.2,27 133.2,27.9C134.2,28.8 134.6,31.2 134.1,32.4C133.6,33.6 131.5,34.7 130,35C128.5,35.3 125.9,34.8 124.9,34.3C123.9,33.9 123.2,32.7 123,31.8C122.7,30.8 122.8,29.3 123.6,28.6Z" fill="#fefec0"/>
<path d="M97.2,43.5C97.2,43.5 100.5,42.1 102.2,42C103.9,41.9 107.1,42.3 108.2,43C109.3,43.7 109.7,45.3 109.7,46.5C109.7,47.7 109.2,49.3 108.2,50C107.2,50.7 104.8,51.2 103.2,51C101.6,50.8 99.7,49.8 98.7,48.5C97.7,47.2 97.2,43.5 97.2,43.5Z" fill="#fee497"/>
<path d="M89.2,15C89.2,15 93.8,13.3 96.2,12.8C98.6,12.3 101.5,12 104.2,12.1C106.9,12.2 110.4,13 112.2,13.5C114,14 117.2,16 117.2,16C117.2,16 117.2,18.9 116.2,19.5C115.2,20.1 111.6,20.9 109.2,21C106.8,21.1 102.9,20.9 100.2,20.5C97.5,20.1 93.6,19.2 92.2,18.5C90.8,17.8 89.2,15 89.2,15Z" fill="#fee497"/>
<use href="#coast"/>
</g>
<use href="#axes"/>
</g>
<g transform="translate(275.8,152.3)">
<g clip-path="url(#cp)">
<rect x="-1" y="-1" width="178.8" height="92.5" fill="#f88e52"/>
<path d="M-13.8,70.5C-13.8,70.5 -4.5,70.5 0.2,70.5C4.9,70.5 12.9,70.7 19.2,70.7C25.5,70.7 32.5,70.2 39.2,70.3C45.9,70.4 52.5,71.2 59.2,71.3C65.9,71.4 72.5,71.2 79.2,70.9C85.9,70.6 92.5,69.6 99.2,69.2C105.9,68.8 112.5,68.8 119.2,68.7C125.9,68.6 132.5,68.7 139.2,68.7C145.9,68.7 152.5,68.7 159.2,68.7C165.9,68.7 176.9,68.7 180.2,68.7C183.5,68.7 190.2,68.7 190.2,68.7C190.2,68.7 190.2,87.7 190.2,87.7C190.2,87.7 -13.8,87.7 -13.8,87.7C-13.8,87.7 -13.8,70.5 -13.8,70.5Z" fill="#fdbe70"/>
<path d="M125.2,80.3C125.2,80.3 134.5,79.4 139.2,79.3C143.9,79.2 159.2,79.9 159.2,79.9C159.2,79.9 160.2,83.1 160.2,83.1C160.2,83.1 148.9,83.9 143.2,83.9C137.5,83.9 127.2,83.3 126.2,83.1C125.2,82.9 125.2,80.3 125.2,80.3Z" fill="#f88e52"/>
<path d="M2.2,45.7C2.2,45.7 6.8,43.8 9.2,43.2C11.6,42.6 15.9,42.1 19.2,41.7C22.5,41.3 25.9,41 29.2,40.7C32.5,40.4 35.9,40.3 39.2,39.9C42.5,39.5 47.2,38.8 49.2,38.5C51.2,38.2 53.2,37.7 55.2,37.7C57.2,37.7 59.9,37.8 62.2,38.2C64.5,38.6 67.2,39.6 69.2,40.2C71.2,40.8 73.2,41.7 75.2,42.2C77.2,42.7 79.9,43.1 82.2,43.7C84.5,44.3 87.7,45 89.2,45.7C90.7,46.4 92.2,47.6 93.2,48.7C94.2,49.8 94.8,51.3 95.2,52.7C95.6,54.1 96,56.4 95.7,57.7C95.4,59 94.3,60.1 93.2,60.7C92.1,61.3 90.5,61.3 89.2,61.2C87.9,61.1 81.9,60.1 79.2,59.7C76.5,59.3 73.9,58.5 71.2,58.7C68.5,58.9 65.9,60 63.2,60.7C60.5,61.4 56.7,62.7 55.2,62.7C53.7,62.7 52.6,61.2 51.2,60.7C49.8,60.2 47.9,59.6 46.2,59.2C44.5,58.8 41.5,58.6 39.2,58.2C36.9,57.8 32.5,57.1 29.2,56.2C25.9,55.3 22.5,53.9 19.2,52.7C15.9,51.5 11.5,49.6 9.2,48.7C6.9,47.8 2.2,46.2 2.2,46.2C2.2,46.2 2.2,45.7 2.2,45.7Z" fill="#e95739"/>
<path d="M107.2,37.7C107.2,37.7 109.1,36.4 110.2,36.2C111.3,36 112.9,36.4 114.2,36.7C115.5,37 117.6,37.6 119.2,38.2C120.8,38.8 122.7,39.7 124.2,40.7C125.7,41.7 127.3,43.6 128.2,44.2C129.1,44.8 131.2,45.7 131.2,45.7C131.2,45.7 129.2,46.8 128.2,47.2C127.2,47.6 124.2,48.7 124.2,48.7C124.2,48.7 125.3,51.7 125.7,52.7C126.1,53.7 127.2,55.7 127.2,55.7C127.2,55.7 125.4,57.7 124.2,58.2C123,58.7 119.5,59.1 118.2,59.2C116.9,59.3 114.2,58.7 114.2,58.7C114.2,58.7 113.8,55.3 113.2,53.7C112.6,52.1 111.4,50.3 110.7,48.7C110,47.1 109.2,45.4 108.7,43.7C108.2,42 107.2,37.7 107.2,37.7Z" fill="#e95739"/>
<path d="M31.2,47.7C31.2,47.7 33.6,44.9 35.2,44.2C36.8,43.5 39.2,43.4 41.2,43.2C43.2,43 47.5,42.8 49.2,42.7C50.9,42.6 52.5,42.6 54.2,42.7C55.9,42.8 57.7,42.7 59.2,43.2C60.7,43.7 63.2,45.7 63.2,45.7C63.2,45.7 62.5,48.5 61.7,49.7C60.9,50.9 59.1,52.4 58.2,53.7C57.3,55 56.9,56.9 55.7,57.7C54.5,58.4 52.6,58.7 51.2,58.2C49.8,57.7 47.2,55.4 46.2,54.7C45.2,54 44.3,53.1 43.2,52.7C42.1,52.3 39.1,52 37.2,51.2C35.3,50.4 31.2,47.7 31.2,47.7Z" fill="#ce2726"/>
<path d="M143.7,44.2C143.7,44.2 146.2,43.7 146.2,43.7C146.2,43.7 147.2,46.2 147.2,46.2C147.2,46.2 145.2,47.7 145.2,47.7C145.2,47.7 143.9,47.1 143.7,46.5C143.4,45.9 143.7,44.2 143.7,44.2Z" fill="#e95739"/>
<path d="M155.7,47.2C155.7,47.2 158.7,47 158.7,47C158.7,47 159.2,49.2 159.2,49.2C159.2,49.2 156.7,49.7 156.7,49.7C156.7,49.7 155.7,47.2 155.7,47.2Z" fill="#e95739"/>
<path d="M-13.8,1C-13.8,1 -4.5,1 0.2,1C4.9,1 10.5,1.1 14.2,1.2C17.9,1.3 25.2,1.7 25.2,1.7C25.2,1.7 25.7,4.2 25.7,4.2C25.7,4.2 19.4,4.9 16.2,5C13,5.1 4.9,5 0.2,5C-4.5,5 -13.8,5 -13.8,5C-13.8,5 -13.8,1 -13.8,1Z" fill="#fdbe70"/>
<path d="M-13.8,12.2C-13.8,12.2 -2.2,12 0.2,12.2C2.6,12.4 5.2,13 7.2,14.2C9.2,15.4 10.1,18.2 12.2,19.2C14.3,20.2 19.1,20 20.2,20.2C21.3,20.4 23.2,21.7 23.2,21.7C23.2,21.7 21.2,22.6 20.2,22.7C19.2,22.8 14.9,23.1 12.2,23.2C9.5,23.3 4.2,23.2 0.2,23.2C-3.8,23.2 -13.8,23.2 -13.8,23.2C-13.8,23.2 -13.8,12.2 -13.8,12.2Z" fill="#f47d48"/>
<path d="M8.2,14.7C8.9,14.2 12.7,12.3 15.2,11.7C17.7,11.1 21.9,10.8 25.2,10.7C28.5,10.6 31.9,11.2 35.2,11.3C38.5,11.4 41.9,11.2 45.2,11.3C48.5,11.4 52.8,11.6 55.2,12.1C57.6,12.6 61,13.8 62.2,14.7C63.4,15.6 64.2,18.7 64.2,18.7C64.2,18.7 61,20.8 59.2,21.3C57.4,21.8 53.5,22 51.2,22.1C48.9,22.2 45.3,21.8 44.2,22.1C43.1,22.4 42.8,23.8 42.2,24.7C41.6,25.6 40.9,28 40.2,28.7C39.5,29.4 38.2,30 37.2,29.7C36.2,29.4 35,27.9 34.2,26.7C33.4,25.5 33,23.9 32.2,22.7C31.4,21.5 30.5,20.2 29.2,19.7C27.9,19.2 23.9,18.9 21.2,18.7C18.5,18.5 14.9,18.9 13.2,18.7C11.5,18.5 8.2,17.3 8.2,17.3C8.2,17.3 7.5,15.2 8.2,14.7Z" fill="#fdbe70"/>
<path d="M83.2,14.7C84.2,13.8 87.1,13.1 89.2,12.7C91.3,12.3 94.5,11.6 97.2,11.7C99.9,11.8 103.5,13.1 105.2,13.2C106.9,13.3 108.8,13 110.2,12.7C111.6,12.4 112.8,11.5 114.2,11.2C115.6,10.9 120.9,10.1 124.2,9.7C127.5,9.3 130.9,8.9 134.2,8.7C137.5,8.5 140.9,8.8 144.2,8.7C147.5,8.6 152.2,8 155.2,8.2C158.2,8.4 161.8,9.1 164.2,9.7C166.6,10.3 170.3,11.6 171.2,12.2C172.1,12.8 172.2,15.2 172.2,15.2C172.2,15.2 168.2,16.3 166.2,16.7C164.2,17.1 161.3,17.1 159.2,17.7C157.1,18.3 154.7,19.1 153.2,20.2C151.7,21.3 150.4,23.2 149.7,24.7C149,26.2 149.2,28.3 148.7,29.7C148.2,31.1 147.6,32.5 146.7,33.7C145.8,34.9 144.4,36.3 143.2,36.7C141.9,37.1 140.4,36.7 139.2,36.2C138,35.7 137,34.7 136.2,33.7C135.4,32.7 134.5,30.8 134.2,29.7C133.9,28.6 134.2,26.2 134.2,26.2C134.2,26.2 130.9,25.7 129.2,25.7C127.5,25.7 124.2,26.2 122.2,26.2C120.2,26.2 117.6,26 116.2,25.7C114.8,25.4 113.5,24.3 112.2,24.2C110.9,24.1 109.5,25 108.2,25.2C106.9,25.4 105.5,25.5 104.2,25.7C102.9,25.9 100.9,26.7 99.2,26.7C97.5,26.7 93.7,26.4 91.2,25.7C88.7,25 85.4,23.6 84.2,22.7C83,21.8 82.4,20 82.2,18.7C82,17.4 82.2,15.6 83.2,14.7Z" fill="#fdbe70"/>
<path d="M125.6,19.7C125.6,19.7 132,18.3 135.2,18.3C138.4,18.3 145.2,19.7 145.2,19.7C145.2,19.7 144.8,25.3 144.8,25.3C144.8,25.3 138.2,26.9 135.2,26.9C132.2,26.9 126.2,25.3 126.2,25.3C126.2,25.3 125.6,19.7 125.6,19.7Z" fill="#f88e52"/>
<path d="M87.2,4.5C87.2,4.5 95.2,4.3 99.2,4.2C103.2,4.1 110.9,3.9 114.2,4C117.5,4.1 123.3,4.4 124.2,4.7C125.1,5 125.2,7.2 125.2,7.2C125.2,7.2 117.9,7.9 114.2,8C110.5,8.1 103.2,8.2 99.2,8.2C95.2,8.2 87.2,8.2 87.2,8.2C87.2,8.2 87.2,4.5 87.2,4.5Z" fill="#fdbe70"/>
<path d="M74.2,0.7C74.2,0.7 84.6,0.4 86.2,0.7C87.8,1 89.7,2.4 90.2,3.7C90.7,5 90.2,7.4 89.2,8.7C88.2,9.9 86,10.9 84.2,11.2C82.4,11.5 74.2,11.2 74.2,11.2C74.2,11.2 74.2,0.7 74.2,0.7Z" fill="#f47d48"/>
<path d="M85.2,33.7C85.2,33.7 88.5,32.8 90.2,32.7C91.9,32.6 95.6,32.6 97.2,32.9C98.8,33.2 101.7,34.7 101.7,34.7C101.7,34.7 101.2,37.3 100.2,37.7C99.2,38.1 95.5,38.3 93.2,38.2C90.9,38.1 87.3,37.8 86.2,37.2C85.1,36.6 85.2,33.7 85.2,33.7Z" fill="#e95739"/>
<path d="M95.2,45.7C95.2,45.7 97.9,44.2 99.2,44.2C100.5,44.2 102.4,44.8 103.2,45.7C103.9,46.6 103.7,49.7 103.7,49.7C103.7,49.7 101.4,51.2 100.2,51.2C98.9,51.2 97,50.6 96.2,49.7C95.4,48.8 95.2,45.7 95.2,45.7Z" fill="#fdbe70"/>
<path d="M78.2,15.7C78.2,15.7 82.2,14.2 82.2,14.2C82.2,14.2 84.2,16.7 84.2,16.7C84.2,16.7 82.2,19.7 82.2,19.7C82.2,19.7 79.4,19.4 78.7,18.7C78,18 78.2,15.7 78.2,15.7Z" fill="#fdbe70"/>
<use href="#coast"/>
</g>
<use href="#axes"/>
</g>
<text class="t" x="27.2" y="12">(a) PD_Inorg_Org</text>
<text class="t" x="204" y="12" text-anchor="end" style="font-size:8.3px">8.1 E+07 cm<tspan dy="-3.2" font-size="5.6px">-2</tspan></text>
<text class="t" x="27.2" y="144.9">(b) PI_Inorg_Org</text>
<text class="t" x="204" y="144.9" text-anchor="end" style="font-size:8.3px">5.7 E+07 cm<tspan dy="-3.2" font-size="5.6px">-2</tspan></text>
<text class="t" x="272.8" y="12">(c) (PD_Inorg_Org-PD_Inorg)/PD_Inorg</text>
<text class="t" x="456.5" y="12" text-anchor="end" style="font-size:8.1px">18 %</text>
<text class="t" x="272.8" y="144.9">(d) (PI_Inorg_Org-PI_Inorg)/PI_Inorg</text>
<text class="t" x="456.5" y="144.9" text-anchor="end" style="font-size:8.1px">39 %</text>
<rect x="212.2" y="53.3" width="5.2" height="15.4" fill="#d7191c"/><rect x="212.2" y="68.6" width="5.2" height="15.4" fill="#f9492a"/><rect x="212.2" y="83.8" width="5.2" height="15.4" fill="#fb7f1d"/><rect x="212.2" y="99.1" width="5.2" height="15.4" fill="#fee55c"/><rect x="212.2" y="114.4" width="5.2" height="15.4" fill="#c6d95b"/><rect x="212.2" y="129.6" width="5.2" height="15.4" fill="#12c1b3"/><rect x="212.2" y="144.9" width="5.2" height="15.4" fill="#0a9bd8"/><rect x="212.2" y="160.2" width="5.2" height="15.4" fill="#5dcdf0"/><rect x="212.2" y="175.5" width="5.2" height="15.4" fill="#b9ecfc"/><rect x="212.2" y="190.7" width="5.2" height="15.4" fill="#ffffff"/><rect x="212.2" y="53.3" width="5.2" height="152.7" fill="none" stroke="#333" stroke-width="0.4"/>
<text class="c" x="222.3" y="56.8">6e8</text><text class="c" x="222.3" y="72.1">4e8</text><text class="c" x="222.3" y="87.3">2e8</text><text class="c" x="222.3" y="102.6">1e8</text><text class="c" x="222.3" y="117.9">8e7</text><text class="c" x="222.3" y="133.1">6e7</text><text class="c" x="222.3" y="148.4">4e7</text><text class="c" x="222.3" y="163.7">2e7</text><text class="c" x="222.3" y="179">1e7</text><text class="c" x="222.3" y="194.2">8e6</text><text class="c" x="222.3" y="209.5">6e6</text>
<rect x="463.4" y="53.3" width="6.8" height="11.8" fill="#a50026"/><rect x="463.4" y="65" width="6.8" height="11.8" fill="#ce2726"/><rect x="463.4" y="76.8" width="6.8" height="11.8" fill="#e95739"/><rect x="463.4" y="88.5" width="6.8" height="11.8" fill="#f88e52"/><rect x="463.4" y="100.3" width="6.8" height="11.8" fill="#fdbe70"/><rect x="463.4" y="112" width="6.8" height="11.8" fill="#fee497"/><rect x="463.4" y="123.8" width="6.8" height="11.8" fill="#fefec0"/><rect x="463.4" y="135.5" width="6.8" height="11.8" fill="#e4f4ef"/><rect x="463.4" y="147.3" width="6.8" height="11.8" fill="#bce1ee"/><rect x="463.4" y="159" width="6.8" height="11.8" fill="#8dc1dc"/><rect x="463.4" y="170.8" width="6.8" height="11.8" fill="#6399c6"/><rect x="463.4" y="182.5" width="6.8" height="11.8" fill="#4169ae"/><rect x="463.4" y="194.3" width="6.8" height="11.8" fill="#313695"/><rect x="463.4" y="53.3" width="6.8" height="152.7" fill="none" stroke="#333" stroke-width="0.4"/>
<text class="c" x="474.5" y="56.8">5</text><text class="c" x="474.5" y="68.5">2</text><text class="c" x="474.5" y="80.3">1</text><text class="c" x="474.5" y="92">0.5</text><text class="c" x="474.5" y="103.8">0.2</text><text class="c" x="474.5" y="115.5">0.1</text><text class="c" x="474.5" y="127.3">0.05</text><text class="c" x="474.5" y="139">-0.05</text><text class="c" x="474.5" y="150.8">-0.1</text><text class="c" x="474.5" y="162.5">-0.2</text><text class="c" x="474.5" y="174.3">-0.5</text><text class="c" x="474.5" y="186">-1</text><text class="c" x="474.5" y="197.8">-2</text><text class="c" x="474.5" y="209.5">-5</text>
</svg>
</body></html>
